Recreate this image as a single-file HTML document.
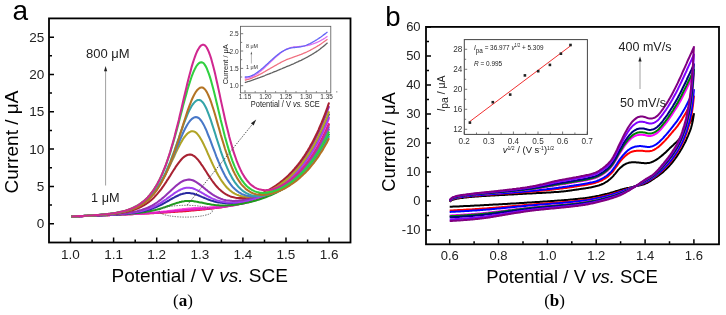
<!DOCTYPE html><html><head><meta charset="utf-8"><style>html,body{margin:0;padding:0;background:#fff;width:726px;height:315px;overflow:hidden}svg{display:block}text{font-family:"Liberation Sans",sans-serif}</style></head><body>
<svg width="726" height="315" viewBox="0 0 726 315" style="filter:blur(0.3px)">
<rect width="726" height="315" fill="#fff"/>
<defs><clipPath id="ca"><rect x="49" y="18.3" width="301.5" height="224.3"/></clipPath><clipPath id="cb"><rect x="426" y="26.8" width="293" height="217.5"/></clipPath><clipPath id="cia"><rect x="240.5" y="26.3" width="90.3" height="66.6"/></clipPath></defs>
<g clip-path="url(#ca)" fill="none" stroke-width="2.05" stroke-linejoin="round" stroke-linecap="butt">
<path d="M71.4 216.5L72.4 216.5L73.5 216.4L74.6 216.4L75.7 216.4L76.7 216.3L77.8 216.3L78.9 216.2L80 216.2L81 216.2L82.1 216.1L83.2 216.1L84.2 216L85.3 216L86.4 216L87.5 215.9L88.5 215.9L89.6 215.8L90.7 215.8L91.8 215.8L92.8 215.7L93.9 215.7L95 215.6L96.1 215.6L97.1 215.6L98.2 215.5L99.3 215.5L100.4 215.4L101.4 215.4L102.5 215.4L103.6 215.3L104.7 215.3L105.7 215.2L106.8 215.2L107.9 215.1L108.9 215.1L110 215.1L111.1 215L112.2 215L113.2 214.9L114.3 214.9L115.4 214.8L116.5 214.8L117.5 214.8L118.6 214.7L119.7 214.7L120.8 214.6L121.8 214.6L122.9 214.5L124 214.5L125.1 214.4L126.1 214.4L127.2 214.4L128.3 214.3L129.4 214.3L130.4 214.2L131.5 214.2L132.6 214.1L133.6 214.1L134.7 214L135.8 214L136.9 213.9L137.9 213.9L139 213.8L140.1 213.8L141.2 213.7L142.2 213.7L143.3 213.6L144.4 213.6L145.5 213.5L146.5 213.5L147.6 213.4L148.7 213.4L149.8 213.3L150.8 213.3L151.9 213.2L153 213.1L154.1 213.1L155.1 213L156.2 213L157.3 212.9L158.3 212.9L159.4 212.8L160.5 212.7L161.6 212.7L162.6 212.6L163.7 212.6L164.8 212.5L165.9 212.4L166.9 212.4L168 212.3L169.1 212.2L170.2 212.2L171.2 212.1L172.3 212L173.4 212L174.5 211.9L175.5 211.8L176.6 211.8L177.7 211.7L178.8 211.6L179.8 211.5L180.9 211.5L182 211.4L183 211.3L184.1 211.2L185.2 211.1L186.3 211.1L187.3 211L188.4 210.9L189.5 210.8L190.6 210.7L191.6 210.6L192.7 210.5L193.8 210.4L194.9 210.3L195.9 210.2L197 210.1L198.1 210L199.2 209.9L200.2 209.8L201.3 209.7L202.4 209.6L203.5 209.5L204.5 209.4L205.6 209.3L206.7 209.1L207.7 209L208.8 208.9L209.9 208.8L211 208.6L212 208.5L213.1 208.4L214.2 208.2L215.3 208.1L216.3 208L217.4 207.8L218.5 207.7L219.6 207.5L220.6 207.4L221.7 207.2L222.8 207L223.9 206.9L224.9 206.7L226 206.5L227.1 206.3L228.2 206.1L229.2 206L230.3 205.8L231.4 205.6L232.4 205.4L233.5 205.1L234.6 204.9L235.7 204.7L236.7 204.5L237.8 204.3L238.9 204L240 203.8L241 203.5L242.1 203.3L243.2 203L244.3 202.7L245.3 202.5L246.4 202.2L247.5 201.9L248.6 201.6L249.6 201.3L250.7 201L251.8 200.6L252.9 200.3L253.9 200L255 199.6L256.1 199.2L257.1 198.9L258.2 198.5L259.3 198.1L260.4 197.7L261.4 197.3L262.5 196.9L263.6 196.4L264.7 196L265.7 195.5L266.8 195L267.9 194.6L269 194L270 193.5L271.1 193L272.2 192.5L273.3 191.9L274.3 191.3L275.4 190.7L276.5 190.1L277.6 189.5L278.6 188.8L279.7 188.2L280.8 187.5L281.8 186.8L282.9 186.1L284 185.3L285.1 184.6L286.1 183.8L287.2 183L288.3 182.1L289.4 181.3L290.4 180.4L291.5 179.5L292.6 178.5L293.7 177.6L294.7 176.6L295.8 175.6L296.9 174.5L298 173.4L299 172.3L300.1 171.2L301.2 170L302.3 168.8L303.3 167.5L304.4 166.3L305.5 164.9L306.5 163.6L307.6 162.2L308.7 160.7L309.8 159.2L310.8 157.7L311.9 156.1L313 154.5L314.1 152.8L315.1 151.1L316.2 149.3L317.3 147.5L318.4 145.6L319.4 143.7L320.5 141.7L321.6 139.6L322.7 137.5L323.7 135.3L324.8 133.1L325.9 130.7L327 128.3L328 125.9L329.1 123.4" stroke="#e8102e"/>
<path d="M71.4 216.5L72.4 216.5L73.5 216.4L74.6 216.4L75.7 216.4L76.7 216.3L77.8 216.3L78.9 216.2L80 216.2L81 216.2L82.1 216.1L83.2 216.1L84.2 216L85.3 216L86.4 216L87.5 215.9L88.5 215.9L89.6 215.8L90.7 215.8L91.8 215.8L92.8 215.7L93.9 215.7L95 215.6L96.1 215.6L97.1 215.5L98.2 215.5L99.3 215.5L100.4 215.4L101.4 215.4L102.5 215.3L103.6 215.3L104.7 215.3L105.7 215.2L106.8 215.2L107.9 215.1L108.9 215.1L110 215L111.1 215L112.2 214.9L113.2 214.9L114.3 214.9L115.4 214.8L116.5 214.8L117.5 214.7L118.6 214.7L119.7 214.6L120.8 214.6L121.8 214.5L122.9 214.5L124 214.4L125.1 214.4L126.1 214.3L127.2 214.3L128.3 214.2L129.4 214.2L130.4 214.1L131.5 214.1L132.6 214L133.6 213.9L134.7 213.9L135.8 213.8L136.9 213.8L137.9 213.7L139 213.6L140.1 213.6L141.2 213.5L142.2 213.4L143.3 213.4L144.4 213.3L145.5 213.2L146.5 213.2L147.6 213.1L148.7 213L149.8 212.9L150.8 212.8L151.9 212.7L153 212.7L154.1 212.6L155.1 212.5L156.2 212.4L157.3 212.3L158.3 212.2L159.4 212.1L160.5 212L161.6 211.8L162.6 211.7L163.7 211.6L164.8 211.5L165.9 211.4L166.9 211.2L168 211.1L169.1 211L170.2 210.8L171.2 210.7L172.3 210.5L173.4 210.4L174.5 210.2L175.5 210.1L176.6 210L177.7 209.8L178.8 209.7L179.8 209.5L180.9 209.4L182 209.3L183 209.1L184.1 209L185.2 208.9L186.3 208.8L187.3 208.7L188.4 208.5L189.5 208.4L190.6 208.4L191.6 208.3L192.7 208.2L193.8 208.1L194.9 208.1L195.9 208L197 207.9L198.1 207.9L199.2 207.8L200.2 207.8L201.3 207.7L202.4 207.7L203.5 207.6L204.5 207.6L205.6 207.5L206.7 207.5L207.7 207.4L208.8 207.4L209.9 207.3L211 207.3L212 207.2L213.1 207.1L214.2 207L215.3 206.9L216.3 206.9L217.4 206.8L218.5 206.7L219.6 206.5L220.6 206.4L221.7 206.3L222.8 206.2L223.9 206L224.9 205.9L226 205.7L227.1 205.6L228.2 205.4L229.2 205.3L230.3 205.1L231.4 204.9L232.4 204.7L233.5 204.5L234.6 204.3L235.7 204.1L236.7 203.9L237.8 203.6L238.9 203.4L240 203.2L241 202.9L242.1 202.7L243.2 202.4L244.3 202.1L245.3 201.8L246.4 201.5L247.5 201.2L248.6 200.9L249.6 200.6L250.7 200.3L251.8 200L252.9 199.6L253.9 199.3L255 198.9L256.1 198.5L257.1 198.1L258.2 197.7L259.3 197.3L260.4 196.9L261.4 196.5L262.5 196L263.6 195.6L264.7 195.1L265.7 194.6L266.8 194.1L267.9 193.6L269 193.1L270 192.5L271.1 192L272.2 191.4L273.3 190.8L274.3 190.2L275.4 189.6L276.5 188.9L277.6 188.2L278.6 187.6L279.7 186.9L280.8 186.1L281.8 185.4L282.9 184.6L284 183.8L285.1 183L286.1 182.2L287.2 181.3L288.3 180.5L289.4 179.6L290.4 178.6L291.5 177.7L292.6 176.7L293.7 175.6L294.7 174.6L295.8 173.5L296.9 172.4L298 171.3L299 170.1L300.1 168.9L301.2 167.6L302.3 166.3L303.3 165L304.4 163.6L305.5 162.2L306.5 160.8L307.6 159.3L308.7 157.8L309.8 156.2L310.8 154.6L311.9 152.9L313 151.2L314.1 149.4L315.1 147.5L316.2 145.7L317.3 143.7L318.4 141.7L319.4 139.7L320.5 137.6L321.6 135.4L322.7 133.1L323.7 130.8L324.8 128.4L325.9 126L327 123.4L328 120.8L329.1 118.1" stroke="#ff40e0"/>
<path d="M71.4 216.5L72.4 216.5L73.5 216.4L74.6 216.4L75.7 216.4L76.7 216.3L77.8 216.3L78.9 216.2L80 216.2L81 216.2L82.1 216.1L83.2 216.1L84.2 216.1L85.3 216L86.4 216L87.5 215.9L88.5 215.9L89.6 215.9L90.7 215.8L91.8 215.8L92.8 215.7L93.9 215.7L95 215.6L96.1 215.6L97.1 215.6L98.2 215.5L99.3 215.5L100.4 215.4L101.4 215.4L102.5 215.4L103.6 215.3L104.7 215.3L105.7 215.2L106.8 215.2L107.9 215.1L108.9 215.1L110 215.1L111.1 215L112.2 215L113.2 214.9L114.3 214.9L115.4 214.8L116.5 214.8L117.5 214.8L118.6 214.7L119.7 214.7L120.8 214.6L121.8 214.6L122.9 214.5L124 214.5L125.1 214.4L126.1 214.4L127.2 214.3L128.3 214.3L129.4 214.2L130.4 214.2L131.5 214.1L132.6 214.1L133.6 214L134.7 214L135.8 213.9L136.9 213.9L137.9 213.8L139 213.8L140.1 213.7L141.2 213.7L142.2 213.6L143.3 213.5L144.4 213.5L145.5 213.4L146.5 213.4L147.6 213.3L148.7 213.2L149.8 213.2L150.8 213.1L151.9 213L153 212.9L154.1 212.9L155.1 212.8L156.2 212.7L157.3 212.6L158.3 212.6L159.4 212.5L160.5 212.4L161.6 212.3L162.6 212.2L163.7 212.1L164.8 212L165.9 211.9L166.9 211.9L168 211.8L169.1 211.7L170.2 211.6L171.2 211.5L172.3 211.4L173.4 211.2L174.5 211.1L175.5 211L176.6 210.9L177.7 210.8L178.8 210.7L179.8 210.6L180.9 210.5L182 210.4L183 210.3L184.1 210.2L185.2 210.1L186.3 210L187.3 210L188.4 209.9L189.5 209.8L190.6 209.7L191.6 209.6L192.7 209.5L193.8 209.5L194.9 209.4L195.9 209.3L197 209.2L198.1 209.2L199.2 209.1L200.2 209L201.3 209L202.4 208.9L203.5 208.8L204.5 208.8L205.6 208.7L206.7 208.6L207.7 208.5L208.8 208.4L209.9 208.4L211 208.3L212 208.2L213.1 208.1L214.2 208L215.3 207.9L216.3 207.8L217.4 207.7L218.5 207.5L219.6 207.4L220.6 207.3L221.7 207.2L222.8 207L223.9 206.9L224.9 206.7L226 206.6L227.1 206.4L228.2 206.3L229.2 206.1L230.3 205.9L231.4 205.7L232.4 205.6L233.5 205.4L234.6 205.2L235.7 205L236.7 204.8L237.8 204.6L238.9 204.3L240 204.1L241 203.9L242.1 203.7L243.2 203.4L244.3 203.2L245.3 202.9L246.4 202.6L247.5 202.4L248.6 202.1L249.6 201.8L250.7 201.5L251.8 201.2L252.9 200.9L253.9 200.6L255 200.2L256.1 199.9L257.1 199.5L258.2 199.2L259.3 198.8L260.4 198.4L261.4 198.1L262.5 197.7L263.6 197.2L264.7 196.8L265.7 196.4L266.8 195.9L267.9 195.5L269 195L270 194.5L271.1 194L272.2 193.5L273.3 193L274.3 192.4L275.4 191.9L276.5 191.3L277.6 190.7L278.6 190.1L279.7 189.5L280.8 188.8L281.8 188.2L282.9 187.5L284 186.8L285.1 186.1L286.1 185.3L287.2 184.6L288.3 183.8L289.4 183L290.4 182.2L291.5 181.3L292.6 180.4L293.7 179.5L294.7 178.6L295.8 177.6L296.9 176.6L298 175.6L299 174.6L300.1 173.5L301.2 172.4L302.3 171.3L303.3 170.1L304.4 168.9L305.5 167.6L306.5 166.3L307.6 165L308.7 163.7L309.8 162.3L310.8 160.8L311.9 159.3L313 157.8L314.1 156.2L315.1 154.6L316.2 153L317.3 151.2L318.4 149.5L319.4 147.6L320.5 145.8L321.6 143.8L322.7 141.8L323.7 139.8L324.8 137.7L325.9 135.5L327 133.3L328 131L329.1 128.6" stroke="#e020c0"/>
<path d="M71.4 216.5L72.4 216.5L73.5 216.4L74.6 216.4L75.7 216.4L76.7 216.3L77.8 216.3L78.9 216.2L80 216.2L81 216.2L82.1 216.1L83.2 216.1L84.2 216L85.3 216L86.4 216L87.5 215.9L88.5 215.9L89.6 215.8L90.7 215.8L91.8 215.8L92.8 215.7L93.9 215.7L95 215.6L96.1 215.6L97.1 215.5L98.2 215.5L99.3 215.4L100.4 215.4L101.4 215.4L102.5 215.3L103.6 215.3L104.7 215.2L105.7 215.2L106.8 215.1L107.9 215.1L108.9 215L110 215L111.1 214.9L112.2 214.9L113.2 214.8L114.3 214.8L115.4 214.7L116.5 214.6L117.5 214.6L118.6 214.5L119.7 214.5L120.8 214.4L121.8 214.3L122.9 214.3L124 214.2L125.1 214.1L126.1 214.1L127.2 214L128.3 213.9L129.4 213.8L130.4 213.7L131.5 213.6L132.6 213.5L133.6 213.4L134.7 213.3L135.8 213.2L136.9 213.1L137.9 213L139 212.9L140.1 212.8L141.2 212.6L142.2 212.5L143.3 212.3L144.4 212.2L145.5 212L146.5 211.8L147.6 211.6L148.7 211.4L149.8 211.2L150.8 211L151.9 210.8L153 210.6L154.1 210.3L155.1 210.1L156.2 209.8L157.3 209.5L158.3 209.2L159.4 208.9L160.5 208.6L161.6 208.2L162.6 207.9L163.7 207.5L164.8 207.2L165.9 206.8L166.9 206.4L168 206L169.1 205.7L170.2 205.3L171.2 204.9L172.3 204.5L173.4 204.1L174.5 203.7L175.5 203.4L176.6 203L177.7 202.7L178.8 202.4L179.8 202.1L180.9 201.9L182 201.6L183 201.4L184.1 201.3L185.2 201.1L186.3 201L187.3 201L188.4 200.9L189.5 200.9L190.6 201L191.6 201L192.7 201.1L193.8 201.2L194.9 201.4L195.9 201.6L197 201.7L198.1 201.9L199.2 202.2L200.2 202.4L201.3 202.6L202.4 202.8L203.5 203.1L204.5 203.3L205.6 203.5L206.7 203.7L207.7 204L208.8 204.1L209.9 204.3L211 204.5L212 204.7L213.1 204.8L214.2 204.9L215.3 205.1L216.3 205.2L217.4 205.3L218.5 205.3L219.6 205.4L220.6 205.4L221.7 205.5L222.8 205.5L223.9 205.5L224.9 205.5L226 205.4L227.1 205.4L228.2 205.3L229.2 205.3L230.3 205.2L231.4 205.1L232.4 205L233.5 204.9L234.6 204.8L235.7 204.7L236.7 204.5L237.8 204.4L238.9 204.2L240 204.1L241 203.9L242.1 203.7L243.2 203.5L244.3 203.3L245.3 203.1L246.4 202.8L247.5 202.6L248.6 202.4L249.6 202.1L250.7 201.9L251.8 201.6L252.9 201.3L253.9 201L255 200.7L256.1 200.4L257.1 200.1L258.2 199.8L259.3 199.5L260.4 199.1L261.4 198.8L262.5 198.4L263.6 198L264.7 197.6L265.7 197.2L266.8 196.8L267.9 196.4L269 195.9L270 195.5L271.1 195L272.2 194.5L273.3 194L274.3 193.5L275.4 193L276.5 192.5L277.6 191.9L278.6 191.4L279.7 190.8L280.8 190.2L281.8 189.6L282.9 188.9L284 188.3L285.1 187.6L286.1 186.9L287.2 186.2L288.3 185.5L289.4 184.7L290.4 183.9L291.5 183.1L292.6 182.3L293.7 181.5L294.7 180.6L295.8 179.7L296.9 178.8L298 177.8L299 176.8L300.1 175.8L301.2 174.8L302.3 173.7L303.3 172.6L304.4 171.5L305.5 170.3L306.5 169.1L307.6 167.9L308.7 166.6L309.8 165.3L310.8 164L311.9 162.6L313 161.1L314.1 159.7L315.1 158.2L316.2 156.6L317.3 155L318.4 153.3L319.4 151.6L320.5 149.9L321.6 148.1L322.7 146.2L323.7 144.3L324.8 142.3L325.9 140.3L327 138.2L328 136L329.1 133.8" stroke="#1f9a1f"/>
<path d="M71.4 216.5L72.4 216.5L73.5 216.4L74.6 216.4L75.7 216.3L76.7 216.3L77.8 216.3L78.9 216.2L80 216.2L81 216.1L82.1 216.1L83.2 216L84.2 216L85.3 216L86.4 215.9L87.5 215.9L88.5 215.8L89.6 215.8L90.7 215.7L91.8 215.7L92.8 215.7L93.9 215.6L95 215.6L96.1 215.5L97.1 215.5L98.2 215.4L99.3 215.4L100.4 215.3L101.4 215.3L102.5 215.2L103.6 215.2L104.7 215.1L105.7 215.1L106.8 215L107.9 214.9L108.9 214.9L110 214.8L111.1 214.8L112.2 214.7L113.2 214.6L114.3 214.6L115.4 214.5L116.5 214.4L117.5 214.4L118.6 214.3L119.7 214.2L120.8 214.1L121.8 214L122.9 214L124 213.9L125.1 213.8L126.1 213.7L127.2 213.6L128.3 213.4L129.4 213.3L130.4 213.2L131.5 213.1L132.6 212.9L133.6 212.8L134.7 212.7L135.8 212.5L136.9 212.3L137.9 212.2L139 212L140.1 211.8L141.2 211.6L142.2 211.3L143.3 211.1L144.4 210.9L145.5 210.6L146.5 210.3L147.6 210L148.7 209.7L149.8 209.4L150.8 209.1L151.9 208.7L153 208.3L154.1 207.9L155.1 207.5L156.2 207.1L157.3 206.6L158.3 206.1L159.4 205.6L160.5 205.1L161.6 204.5L162.6 204L163.7 203.4L164.8 202.8L165.9 202.2L166.9 201.6L168 201L169.1 200.4L170.2 199.7L171.2 199.1L172.3 198.5L173.4 197.9L174.5 197.3L175.5 196.7L176.6 196.2L177.7 195.7L178.8 195.2L179.8 194.7L180.9 194.3L182 194L183 193.7L184.1 193.4L185.2 193.3L186.3 193.1L187.3 193L188.4 193L189.5 193.1L190.6 193.2L191.6 193.4L192.7 193.6L193.8 193.8L194.9 194.2L195.9 194.5L197 194.9L198.1 195.3L199.2 195.7L200.2 196.2L201.3 196.6L202.4 197.1L203.5 197.5L204.5 198L205.6 198.4L206.7 198.9L207.7 199.3L208.8 199.7L209.9 200.1L211 200.5L212 200.8L213.1 201.1L214.2 201.4L215.3 201.7L216.3 202L217.4 202.2L218.5 202.4L219.6 202.6L220.6 202.7L221.7 202.8L222.8 202.9L223.9 203L224.9 203.1L226 203.1L227.1 203.1L228.2 203.1L229.2 203.1L230.3 203.1L231.4 203L232.4 202.9L233.5 202.8L234.6 202.7L235.7 202.6L236.7 202.5L237.8 202.3L238.9 202.1L240 202L241 201.8L242.1 201.6L243.2 201.3L244.3 201.1L245.3 200.9L246.4 200.6L247.5 200.3L248.6 200L249.6 199.7L250.7 199.4L251.8 199.1L252.9 198.8L253.9 198.4L255 198.1L256.1 197.7L257.1 197.3L258.2 196.9L259.3 196.5L260.4 196.1L261.4 195.6L262.5 195.2L263.6 194.7L264.7 194.2L265.7 193.7L266.8 193.2L267.9 192.7L269 192.1L270 191.6L271.1 191L272.2 190.4L273.3 189.8L274.3 189.2L275.4 188.5L276.5 187.8L277.6 187.1L278.6 186.4L279.7 185.7L280.8 184.9L281.8 184.2L282.9 183.4L284 182.6L285.1 181.7L286.1 180.8L287.2 179.9L288.3 179L289.4 178.1L290.4 177.1L291.5 176.1L292.6 175L293.7 174L294.7 172.9L295.8 171.7L296.9 170.6L298 169.4L299 168.1L300.1 166.9L301.2 165.6L302.3 164.2L303.3 162.8L304.4 161.4L305.5 159.9L306.5 158.4L307.6 156.8L308.7 155.2L309.8 153.6L310.8 151.9L311.9 150.1L313 148.3L314.1 146.4L315.1 144.5L316.2 142.5L317.3 140.5L318.4 138.4L319.4 136.3L320.5 134L321.6 131.7L322.7 129.4L323.7 127L324.8 124.4L325.9 121.9L327 119.2L328 116.5L329.1 113.7" stroke="#2a2aa0"/>
<path d="M71.4 216.5L72.4 216.5L73.5 216.4L74.6 216.4L75.7 216.3L76.7 216.3L77.8 216.3L78.9 216.2L80 216.2L81 216.1L82.1 216.1L83.2 216L84.2 216L85.3 216L86.4 215.9L87.5 215.9L88.5 215.8L89.6 215.8L90.7 215.7L91.8 215.7L92.8 215.6L93.9 215.6L95 215.5L96.1 215.5L97.1 215.4L98.2 215.4L99.3 215.3L100.4 215.3L101.4 215.2L102.5 215.2L103.6 215.1L104.7 215.1L105.7 215L106.8 215L107.9 214.9L108.9 214.8L110 214.8L111.1 214.7L112.2 214.6L113.2 214.6L114.3 214.5L115.4 214.4L116.5 214.3L117.5 214.3L118.6 214.2L119.7 214.1L120.8 214L121.8 213.9L122.9 213.8L124 213.7L125.1 213.6L126.1 213.5L127.2 213.3L128.3 213.2L129.4 213.1L130.4 212.9L131.5 212.8L132.6 212.6L133.6 212.5L134.7 212.3L135.8 212.1L136.9 211.9L137.9 211.7L139 211.5L140.1 211.2L141.2 211L142.2 210.7L143.3 210.4L144.4 210.1L145.5 209.8L146.5 209.5L147.6 209.1L148.7 208.7L149.8 208.3L150.8 207.9L151.9 207.5L153 207L154.1 206.5L155.1 206L156.2 205.5L157.3 204.9L158.3 204.3L159.4 203.7L160.5 203L161.6 202.4L162.6 201.7L163.7 200.9L164.8 200.2L165.9 199.5L166.9 198.7L168 197.9L169.1 197.1L170.2 196.3L171.2 195.5L172.3 194.8L173.4 194L174.5 193.2L175.5 192.5L176.6 191.8L177.7 191.2L178.8 190.5L179.8 190L180.9 189.4L182 189L183 188.6L184.1 188.3L185.2 188L186.3 187.8L187.3 187.7L188.4 187.7L189.5 187.7L190.6 187.9L191.6 188.1L192.7 188.3L193.8 188.7L194.9 189.1L195.9 189.6L197 190.1L198.1 190.6L199.2 191.2L200.2 191.8L201.3 192.4L202.4 193.1L203.5 193.7L204.5 194.3L205.6 195L206.7 195.6L207.7 196.2L208.8 196.8L209.9 197.3L211 197.9L212 198.4L213.1 198.9L214.2 199.3L215.3 199.7L216.3 200.1L217.4 200.5L218.5 200.8L219.6 201.1L220.6 201.4L221.7 201.6L222.8 201.8L223.9 202L224.9 202.1L226 202.3L227.1 202.4L228.2 202.4L229.2 202.5L230.3 202.5L231.4 202.5L232.4 202.5L233.5 202.5L234.6 202.4L235.7 202.3L236.7 202.2L237.8 202.1L238.9 202L240 201.9L241 201.7L242.1 201.5L243.2 201.3L244.3 201.1L245.3 200.9L246.4 200.7L247.5 200.4L248.6 200.2L249.6 199.9L250.7 199.6L251.8 199.3L252.9 199L253.9 198.7L255 198.3L256.1 198L257.1 197.6L258.2 197.2L259.3 196.8L260.4 196.4L261.4 196L262.5 195.6L263.6 195.1L264.7 194.7L265.7 194.2L266.8 193.7L267.9 193.2L269 192.7L270 192.1L271.1 191.6L272.2 191L273.3 190.4L274.3 189.8L275.4 189.1L276.5 188.5L277.6 187.8L278.6 187.1L279.7 186.4L280.8 185.7L281.8 185L282.9 184.2L284 183.4L285.1 182.6L286.1 181.7L287.2 180.9L288.3 180L289.4 179L290.4 178.1L291.5 177.1L292.6 176.1L293.7 175.1L294.7 174L295.8 172.9L296.9 171.8L298 170.6L299 169.4L300.1 168.2L301.2 166.9L302.3 165.6L303.3 164.3L304.4 162.9L305.5 161.5L306.5 160L307.6 158.5L308.7 156.9L309.8 155.3L310.8 153.7L311.9 152L313 150.2L314.1 148.4L315.1 146.5L316.2 144.6L317.3 142.7L318.4 140.6L319.4 138.5L320.5 136.4L321.6 134.2L322.7 131.9L323.7 129.5L324.8 127.1L325.9 124.6L327 122L328 119.4L329.1 116.6" stroke="#a040f0"/>
<path d="M71.4 216.5L72.4 216.4L73.5 216.4L74.6 216.4L75.7 216.3L76.7 216.3L77.8 216.2L78.9 216.2L80 216.1L81 216.1L82.1 216.1L83.2 216L84.2 216L85.3 215.9L86.4 215.9L87.5 215.8L88.5 215.8L89.6 215.7L90.7 215.7L91.8 215.6L92.8 215.6L93.9 215.5L95 215.5L96.1 215.4L97.1 215.4L98.2 215.3L99.3 215.3L100.4 215.2L101.4 215.2L102.5 215.1L103.6 215L104.7 215L105.7 214.9L106.8 214.9L107.9 214.8L108.9 214.7L110 214.6L111.1 214.6L112.2 214.5L113.2 214.4L114.3 214.3L115.4 214.2L116.5 214.1L117.5 214L118.6 214L119.7 213.8L120.8 213.7L121.8 213.6L122.9 213.5L124 213.4L125.1 213.2L126.1 213.1L127.2 213L128.3 212.8L129.4 212.6L130.4 212.5L131.5 212.3L132.6 212.1L133.6 211.9L134.7 211.6L135.8 211.4L136.9 211.2L137.9 210.9L139 210.6L140.1 210.3L141.2 210L142.2 209.7L143.3 209.3L144.4 208.9L145.5 208.5L146.5 208.1L147.6 207.7L148.7 207.2L149.8 206.7L150.8 206.1L151.9 205.6L153 205L154.1 204.3L155.1 203.7L156.2 203L157.3 202.3L158.3 201.5L159.4 200.7L160.5 199.9L161.6 199L162.6 198.1L163.7 197.2L164.8 196.3L165.9 195.3L166.9 194.3L168 193.3L169.1 192.3L170.2 191.3L171.2 190.2L172.3 189.2L173.4 188.2L174.5 187.2L175.5 186.3L176.6 185.4L177.7 184.5L178.8 183.7L179.8 182.9L180.9 182.2L182 181.5L183 181L184.1 180.5L185.2 180.2L186.3 179.9L187.3 179.7L188.4 179.6L189.5 179.6L190.6 179.8L191.6 180L192.7 180.3L193.8 180.8L194.9 181.3L195.9 181.9L197 182.6L198.1 183.3L199.2 184.1L200.2 184.9L201.3 185.7L202.4 186.6L203.5 187.5L204.5 188.4L205.6 189.3L206.7 190.1L207.7 191L208.8 191.8L209.9 192.6L211 193.4L212 194.2L213.1 194.9L214.2 195.5L215.3 196.2L216.3 196.7L217.4 197.3L218.5 197.8L219.6 198.2L220.6 198.7L221.7 199L222.8 199.4L223.9 199.7L224.9 199.9L226 200.2L227.1 200.4L228.2 200.5L229.2 200.6L230.3 200.7L231.4 200.8L232.4 200.9L233.5 200.9L234.6 200.9L235.7 200.8L236.7 200.8L237.8 200.7L238.9 200.6L240 200.5L241 200.3L242.1 200.2L243.2 200L244.3 199.8L245.3 199.6L246.4 199.3L247.5 199.1L248.6 198.8L249.6 198.5L250.7 198.2L251.8 197.9L252.9 197.6L253.9 197.2L255 196.9L256.1 196.5L257.1 196.1L258.2 195.7L259.3 195.2L260.4 194.8L261.4 194.3L262.5 193.9L263.6 193.4L264.7 192.9L265.7 192.3L266.8 191.8L267.9 191.2L269 190.7L270 190.1L271.1 189.5L272.2 188.8L273.3 188.2L274.3 187.5L275.4 186.8L276.5 186.1L277.6 185.3L278.6 184.6L279.7 183.8L280.8 183L281.8 182.1L282.9 181.3L284 180.4L285.1 179.5L286.1 178.6L287.2 177.6L288.3 176.6L289.4 175.6L290.4 174.5L291.5 173.5L292.6 172.3L293.7 171.2L294.7 170L295.8 168.8L296.9 167.5L298 166.2L299 164.9L300.1 163.5L301.2 162.1L302.3 160.7L303.3 159.2L304.4 157.6L305.5 156.1L306.5 154.4L307.6 152.7L308.7 151L309.8 149.2L310.8 147.4L311.9 145.5L313 143.5L314.1 141.5L315.1 139.5L316.2 137.3L317.3 135.1L318.4 132.9L319.4 130.6L320.5 128.2L321.6 125.7L322.7 123.1L323.7 120.5L324.8 117.8L325.9 115.1L327 112.2L328 109.2L329.1 106.2" stroke="#9432b4"/>
<path d="M71.4 216.5L72.4 216.4L73.5 216.4L74.6 216.3L75.7 216.3L76.7 216.2L77.8 216.2L78.9 216.1L80 216.1L81 216L82.1 216L83.2 215.9L84.2 215.9L85.3 215.8L86.4 215.8L87.5 215.7L88.5 215.7L89.6 215.6L90.7 215.6L91.8 215.5L92.8 215.5L93.9 215.4L95 215.3L96.1 215.3L97.1 215.2L98.2 215.1L99.3 215.1L100.4 215L101.4 214.9L102.5 214.9L103.6 214.8L104.7 214.7L105.7 214.6L106.8 214.5L107.9 214.4L108.9 214.3L110 214.2L111.1 214.1L112.2 214L113.2 213.9L114.3 213.8L115.4 213.6L116.5 213.5L117.5 213.4L118.6 213.2L119.7 213.1L120.8 212.9L121.8 212.7L122.9 212.5L124 212.3L125.1 212.1L126.1 211.9L127.2 211.6L128.3 211.4L129.4 211.1L130.4 210.8L131.5 210.5L132.6 210.2L133.6 209.9L134.7 209.5L135.8 209.1L136.9 208.7L137.9 208.3L139 207.8L140.1 207.3L141.2 206.8L142.2 206.2L143.3 205.6L144.4 205L145.5 204.3L146.5 203.6L147.6 202.9L148.7 202.1L149.8 201.2L150.8 200.4L151.9 199.4L153 198.4L154.1 197.4L155.1 196.3L156.2 195.1L157.3 193.9L158.3 192.7L159.4 191.3L160.5 190L161.6 188.6L162.6 187.1L163.7 185.6L164.8 184L165.9 182.4L166.9 180.7L168 179.1L169.1 177.4L170.2 175.7L171.2 174L172.3 172.2L173.4 170.5L174.5 168.9L175.5 167.2L176.6 165.6L177.7 164.1L178.8 162.6L179.8 161.3L180.9 160L182 158.8L183 157.8L184.1 156.9L185.2 156.1L186.3 155.5L187.3 155L188.4 154.7L189.5 154.6L190.6 154.6L191.6 154.8L192.7 155.3L193.8 155.9L194.9 156.7L195.9 157.6L197 158.7L198.1 159.9L199.2 161.3L200.2 162.7L201.3 164.3L202.4 165.8L203.5 167.5L204.5 169.1L205.6 170.8L206.7 172.5L207.7 174.2L208.8 175.8L209.9 177.5L211 179L212 180.5L213.1 182L214.2 183.4L215.3 184.8L216.3 186L217.4 187.2L218.5 188.4L219.6 189.4L220.6 190.4L221.7 191.3L222.8 192.2L223.9 193L224.9 193.7L226 194.3L227.1 194.9L228.2 195.5L229.2 195.9L230.3 196.4L231.4 196.7L232.4 197.1L233.5 197.3L234.6 197.6L235.7 197.8L236.7 197.9L237.8 198L238.9 198.1L240 198.1L241 198.1L242.1 198.1L243.2 198.1L244.3 198L245.3 197.9L246.4 197.7L247.5 197.5L248.6 197.4L249.6 197.1L250.7 196.9L251.8 196.7L252.9 196.4L253.9 196.1L255 195.7L256.1 195.4L257.1 195L258.2 194.7L259.3 194.3L260.4 193.8L261.4 193.4L262.5 192.9L263.6 192.5L264.7 192L265.7 191.4L266.8 190.9L267.9 190.3L269 189.8L270 189.2L271.1 188.5L272.2 187.9L273.3 187.2L274.3 186.5L275.4 185.8L276.5 185.1L277.6 184.3L278.6 183.6L279.7 182.8L280.8 181.9L281.8 181.1L282.9 180.2L284 179.3L285.1 178.4L286.1 177.4L287.2 176.4L288.3 175.4L289.4 174.3L290.4 173.2L291.5 172.1L292.6 171L293.7 169.8L294.7 168.5L295.8 167.3L296.9 166L298 164.7L299 163.3L300.1 161.9L301.2 160.4L302.3 158.9L303.3 157.4L304.4 155.8L305.5 154.1L306.5 152.4L307.6 150.7L308.7 148.9L309.8 147L310.8 145.1L311.9 143.2L313 141.2L314.1 139.1L315.1 136.9L316.2 134.7L317.3 132.5L318.4 130.1L319.4 127.7L320.5 125.2L321.6 122.7L322.7 120L323.7 117.3L324.8 114.5L325.9 111.6L327 108.7L328 105.6L329.1 102.5" stroke="#a82232"/>
<path d="M71.4 216.4L72.4 216.4L73.5 216.3L74.6 216.3L75.7 216.2L76.7 216.2L77.8 216.1L78.9 216.1L80 216L81 216L82.1 215.9L83.2 215.9L84.2 215.8L85.3 215.8L86.4 215.7L87.5 215.7L88.5 215.6L89.6 215.5L90.7 215.5L91.8 215.4L92.8 215.4L93.9 215.3L95 215.2L96.1 215.1L97.1 215.1L98.2 215L99.3 214.9L100.4 214.8L101.4 214.7L102.5 214.6L103.6 214.6L104.7 214.5L105.7 214.4L106.8 214.2L107.9 214.1L108.9 214L110 213.9L111.1 213.8L112.2 213.6L113.2 213.5L114.3 213.3L115.4 213.2L116.5 213L117.5 212.8L118.6 212.6L119.7 212.4L120.8 212.2L121.8 212L122.9 211.8L124 211.5L125.1 211.3L126.1 211L127.2 210.7L128.3 210.3L129.4 210L130.4 209.7L131.5 209.3L132.6 208.9L133.6 208.4L134.7 208L135.8 207.5L136.9 207L137.9 206.4L139 205.8L140.1 205.2L141.2 204.5L142.2 203.8L143.3 203.1L144.4 202.3L145.5 201.5L146.5 200.6L147.6 199.6L148.7 198.6L149.8 197.6L150.8 196.4L151.9 195.3L153 194L154.1 192.7L155.1 191.3L156.2 189.9L157.3 188.4L158.3 186.8L159.4 185.1L160.5 183.4L161.6 181.6L162.6 179.7L163.7 177.7L164.8 175.7L165.9 173.7L166.9 171.5L168 169.4L169.1 167.1L170.2 164.9L171.2 162.6L172.3 160.3L173.4 158L174.5 155.7L175.5 153.4L176.6 151.1L177.7 148.9L178.8 146.8L179.8 144.7L180.9 142.7L182 140.9L183 139.1L184.1 137.5L185.2 136.1L186.3 134.8L187.3 133.7L188.4 132.8L189.5 132.1L190.6 131.6L191.6 131.3L192.7 131.2L193.8 131.4L194.9 131.9L195.9 132.6L197 133.6L198.1 134.9L199.2 136.3L200.2 138L201.3 139.8L202.4 141.8L203.5 143.9L204.5 146.1L205.6 148.4L206.7 150.8L207.7 153.2L208.8 155.6L209.9 158.1L211 160.5L212 162.8L213.1 165.1L214.2 167.4L215.3 169.6L216.3 171.7L217.4 173.7L218.5 175.7L219.6 177.5L220.6 179.2L221.7 180.9L222.8 182.4L223.9 183.9L224.9 185.2L226 186.5L227.1 187.7L228.2 188.8L229.2 189.8L230.3 190.7L231.4 191.5L232.4 192.3L233.5 192.9L234.6 193.6L235.7 194.1L236.7 194.6L237.8 195L238.9 195.4L240 195.7L241 196L242.1 196.2L243.2 196.4L244.3 196.5L245.3 196.6L246.4 196.6L247.5 196.7L248.6 196.6L249.6 196.6L250.7 196.5L251.8 196.4L252.9 196.2L253.9 196.1L255 195.9L256.1 195.6L257.1 195.4L258.2 195.1L259.3 194.8L260.4 194.5L261.4 194.1L262.5 193.8L263.6 193.4L264.7 192.9L265.7 192.5L266.8 192L267.9 191.6L269 191.1L270 190.5L271.1 190L272.2 189.4L273.3 188.9L274.3 188.2L275.4 187.6L276.5 187L277.6 186.3L278.6 185.6L279.7 184.9L280.8 184.1L281.8 183.3L282.9 182.5L284 181.7L285.1 180.9L286.1 180L287.2 179.1L288.3 178.2L289.4 177.2L290.4 176.2L291.5 175.2L292.6 174.1L293.7 173L294.7 171.9L295.8 170.8L296.9 169.6L298 168.4L299 167.1L300.1 165.8L301.2 164.5L302.3 163.1L303.3 161.7L304.4 160.2L305.5 158.7L306.5 157.2L307.6 155.6L308.7 153.9L309.8 152.2L310.8 150.5L311.9 148.7L313 146.9L314.1 144.9L315.1 143L316.2 141L317.3 138.9L318.4 136.7L319.4 134.5L320.5 132.3L321.6 129.9L322.7 127.5L323.7 125L324.8 122.5L325.9 119.8L327 117.1L328 114.3L329.1 111.4" stroke="#b0a426"/>
<path d="M71.4 216.4L72.4 216.4L73.5 216.3L74.6 216.3L75.7 216.2L76.7 216.2L77.8 216.1L78.9 216.1L80 216L81 216L82.1 215.9L83.2 215.9L84.2 215.8L85.3 215.8L86.4 215.7L87.5 215.7L88.5 215.6L89.6 215.5L90.7 215.5L91.8 215.4L92.8 215.3L93.9 215.3L95 215.2L96.1 215.1L97.1 215.1L98.2 215L99.3 214.9L100.4 214.8L101.4 214.7L102.5 214.6L103.6 214.5L104.7 214.4L105.7 214.3L106.8 214.2L107.9 214.1L108.9 214L110 213.9L111.1 213.7L112.2 213.6L113.2 213.5L114.3 213.3L115.4 213.1L116.5 213L117.5 212.8L118.6 212.6L119.7 212.4L120.8 212.2L121.8 212L122.9 211.7L124 211.5L125.1 211.2L126.1 210.9L127.2 210.6L128.3 210.3L129.4 210L130.4 209.6L131.5 209.2L132.6 208.8L133.6 208.4L134.7 207.9L135.8 207.4L136.9 206.9L137.9 206.4L139 205.8L140.1 205.2L141.2 204.5L142.2 203.8L143.3 203.1L144.4 202.3L145.5 201.4L146.5 200.6L147.6 199.6L148.7 198.6L149.8 197.6L150.8 196.5L151.9 195.3L153 194L154.1 192.7L155.1 191.3L156.2 189.9L157.3 188.3L158.3 186.7L159.4 185L160.5 183.2L161.6 181.4L162.6 179.5L163.7 177.4L164.8 175.4L165.9 173.2L166.9 170.9L168 168.6L169.1 166.2L170.2 163.8L171.2 161.3L172.3 158.7L173.4 156.1L174.5 153.5L175.5 150.9L176.6 148.2L177.7 145.6L178.8 143L179.8 140.4L180.9 137.8L182 135.4L183 133L184.1 130.7L185.2 128.6L186.3 126.6L187.3 124.7L188.4 123L189.5 121.5L190.6 120.2L191.6 119.1L192.7 118.3L193.8 117.6L194.9 117.2L195.9 117.1L197 117.2L198.1 117.7L199.2 118.4L200.2 119.5L201.3 120.9L202.4 122.5L203.5 124.4L204.5 126.4L205.6 128.7L206.7 131.2L207.7 133.8L208.8 136.5L209.9 139.2L211 142.1L212 144.9L213.1 147.8L214.2 150.7L215.3 153.5L216.3 156.3L217.4 159L218.5 161.7L219.6 164.2L220.6 166.7L221.7 169L222.8 171.3L223.9 173.4L224.9 175.4L226 177.4L227.1 179.2L228.2 180.9L229.2 182.4L230.3 183.9L231.4 185.3L232.4 186.6L233.5 187.7L234.6 188.8L235.7 189.8L236.7 190.7L237.8 191.5L238.9 192.3L240 192.9L241 193.5L242.1 194.1L243.2 194.5L244.3 194.9L245.3 195.3L246.4 195.6L247.5 195.8L248.6 196L249.6 196.2L250.7 196.3L251.8 196.4L252.9 196.4L253.9 196.4L255 196.4L256.1 196.3L257.1 196.2L258.2 196.1L259.3 195.9L260.4 195.8L261.4 195.6L262.5 195.3L263.6 195.1L264.7 194.8L265.7 194.5L266.8 194.1L267.9 193.8L269 193.4L270 193L271.1 192.6L272.2 192.1L273.3 191.6L274.3 191.2L275.4 190.7L276.5 190.1L277.6 189.6L278.6 189L279.7 188.4L280.8 187.8L281.8 187.1L282.9 186.5L284 185.8L285.1 185.1L286.1 184.4L287.2 183.6L288.3 182.8L289.4 182L290.4 181.2L291.5 180.3L292.6 179.4L293.7 178.5L294.7 177.6L295.8 176.6L296.9 175.6L298 174.6L299 173.5L300.1 172.4L301.2 171.3L302.3 170.1L303.3 168.9L304.4 167.7L305.5 166.4L306.5 165.1L307.6 163.7L308.7 162.3L309.8 160.9L310.8 159.4L311.9 157.9L313 156.3L314.1 154.7L315.1 153.1L316.2 151.4L317.3 149.6L318.4 147.8L319.4 145.9L320.5 144L321.6 142L322.7 140L323.7 137.8L324.8 135.7L325.9 133.4L327 131.1L328 128.8L329.1 126.3" stroke="#4878c8"/>
<path d="M71.4 216.4L72.4 216.4L73.5 216.3L74.6 216.3L75.7 216.2L76.7 216.2L77.8 216.1L78.9 216.1L80 216L81 216L82.1 215.9L83.2 215.9L84.2 215.8L85.3 215.8L86.4 215.7L87.5 215.7L88.5 215.6L89.6 215.5L90.7 215.5L91.8 215.4L92.8 215.3L93.9 215.3L95 215.2L96.1 215.1L97.1 215.1L98.2 215L99.3 214.9L100.4 214.8L101.4 214.7L102.5 214.6L103.6 214.5L104.7 214.4L105.7 214.3L106.8 214.2L107.9 214.1L108.9 214L110 213.9L111.1 213.7L112.2 213.6L113.2 213.4L114.3 213.3L115.4 213.1L116.5 212.9L117.5 212.8L118.6 212.6L119.7 212.4L120.8 212.2L121.8 211.9L122.9 211.7L124 211.4L125.1 211.2L126.1 210.9L127.2 210.6L128.3 210.3L129.4 209.9L130.4 209.5L131.5 209.2L132.6 208.8L133.6 208.3L134.7 207.9L135.8 207.4L136.9 206.8L137.9 206.3L139 205.7L140.1 205.1L141.2 204.4L142.2 203.7L143.3 202.9L144.4 202.1L145.5 201.3L146.5 200.4L147.6 199.4L148.7 198.4L149.8 197.3L150.8 196.2L151.9 195L153 193.7L154.1 192.4L155.1 190.9L156.2 189.4L157.3 187.8L158.3 186.2L159.4 184.4L160.5 182.6L161.6 180.6L162.6 178.6L163.7 176.5L164.8 174.2L165.9 171.9L166.9 169.5L168 167L169.1 164.4L170.2 161.8L171.2 159L172.3 156.2L173.4 153.3L174.5 150.3L175.5 147.3L176.6 144.3L177.7 141.2L178.8 138.1L179.8 135L180.9 131.9L182 128.9L183 125.9L184.1 123L185.2 120.2L186.3 117.4L187.3 114.8L188.4 112.4L189.5 110.1L190.6 108L191.6 106.1L192.7 104.5L193.8 103.1L194.9 101.9L195.9 101L197 100.3L198.1 100L199.2 99.9L200.2 100.2L201.3 100.9L202.4 101.9L203.5 103.3L204.5 105L205.6 107L206.7 109.3L207.7 111.9L208.8 114.6L209.9 117.6L211 120.7L212 123.9L213.1 127.2L214.2 130.6L215.3 134L216.3 137.4L217.4 140.8L218.5 144.1L219.6 147.4L220.6 150.6L221.7 153.8L222.8 156.8L223.9 159.7L224.9 162.5L226 165.1L227.1 167.7L228.2 170.1L229.2 172.4L230.3 174.5L231.4 176.5L232.4 178.4L233.5 180.2L234.6 181.8L235.7 183.3L236.7 184.7L237.8 186L238.9 187.2L240 188.3L241 189.3L242.1 190.2L243.2 191.1L244.3 191.8L245.3 192.5L246.4 193.1L247.5 193.6L248.6 194.1L249.6 194.5L250.7 194.9L251.8 195.2L252.9 195.4L253.9 195.6L255 195.8L256.1 195.9L257.1 196L258.2 196L259.3 196L260.4 195.9L261.4 195.9L262.5 195.8L263.6 195.6L264.7 195.5L265.7 195.3L266.8 195.1L267.9 194.8L269 194.5L270 194.2L271.1 193.9L272.2 193.6L273.3 193.2L274.3 192.8L275.4 192.4L276.5 192L277.6 191.5L278.6 191.1L279.7 190.6L280.8 190L281.8 189.5L282.9 188.9L284 188.3L285.1 187.7L286.1 187.1L287.2 186.4L288.3 185.8L289.4 185.1L290.4 184.3L291.5 183.6L292.6 182.8L293.7 182L294.7 181.2L295.8 180.3L296.9 179.5L298 178.6L299 177.6L300.1 176.7L301.2 175.7L302.3 174.6L303.3 173.6L304.4 172.5L305.5 171.4L306.5 170.2L307.6 169L308.7 167.8L309.8 166.5L310.8 165.2L311.9 163.9L313 162.5L314.1 161.1L315.1 159.6L316.2 158.1L317.3 156.6L318.4 154.9L319.4 153.3L320.5 151.6L321.6 149.8L322.7 148L323.7 146.2L324.8 144.3L325.9 142.3L327 140.3L328 138.2L329.1 136" stroke="#34a4a8"/>
<path d="M71.4 216.4L72.4 216.4L73.5 216.4L74.6 216.3L75.7 216.3L76.7 216.2L77.8 216.2L78.9 216.1L80 216.1L81 216L82.1 216L83.2 215.9L84.2 215.9L85.3 215.8L86.4 215.7L87.5 215.7L88.5 215.6L89.6 215.6L90.7 215.5L91.8 215.4L92.8 215.4L93.9 215.3L95 215.2L96.1 215.2L97.1 215.1L98.2 215L99.3 214.9L100.4 214.9L101.4 214.8L102.5 214.7L103.6 214.6L104.7 214.5L105.7 214.4L106.8 214.3L107.9 214.2L108.9 214.1L110 213.9L111.1 213.8L112.2 213.7L113.2 213.6L114.3 213.4L115.4 213.3L116.5 213.1L117.5 212.9L118.6 212.7L119.7 212.5L120.8 212.3L121.8 212.1L122.9 211.9L124 211.7L125.1 211.4L126.1 211.2L127.2 210.9L128.3 210.6L129.4 210.2L130.4 209.9L131.5 209.5L132.6 209.2L133.6 208.8L134.7 208.3L135.8 207.9L136.9 207.4L137.9 206.8L139 206.3L140.1 205.7L141.2 205.1L142.2 204.4L143.3 203.7L144.4 202.9L145.5 202.1L146.5 201.3L147.6 200.4L148.7 199.4L149.8 198.4L150.8 197.3L151.9 196.2L153 194.9L154.1 193.7L155.1 192.3L156.2 190.8L157.3 189.3L158.3 187.7L159.4 186L160.5 184.2L161.6 182.3L162.6 180.3L163.7 178.2L164.8 176L165.9 173.7L166.9 171.3L168 168.8L169.1 166.2L170.2 163.5L171.2 160.7L172.3 157.8L173.4 154.8L174.5 151.7L175.5 148.6L176.6 145.3L177.7 142L178.8 138.7L179.8 135.3L180.9 131.8L182 128.4L183 125L184.1 121.6L185.2 118.2L186.3 114.9L187.3 111.7L188.4 108.6L189.5 105.7L190.6 102.8L191.6 100.2L192.7 97.8L193.8 95.5L194.9 93.5L195.9 91.8L197 90.3L198.1 89.2L199.2 88.3L200.2 87.7L201.3 87.4L202.4 87.5L203.5 88L204.5 88.9L205.6 90.2L206.7 91.9L207.7 93.9L208.8 96.3L209.9 98.9L211 101.8L212 105L213.1 108.3L214.2 111.8L215.3 115.4L216.3 119.1L217.4 122.9L218.5 126.7L219.6 130.4L220.6 134.2L221.7 137.9L222.8 141.5L223.9 145L224.9 148.5L226 151.8L227.1 155L228.2 158L229.2 160.9L230.3 163.7L231.4 166.4L232.4 168.8L233.5 171.2L234.6 173.4L235.7 175.4L236.7 177.4L237.8 179.2L238.9 180.8L240 182.4L241 183.8L242.1 185.1L243.2 186.3L244.3 187.4L245.3 188.4L246.4 189.4L247.5 190.2L248.6 190.9L249.6 191.6L250.7 192.2L251.8 192.7L252.9 193.2L253.9 193.6L255 193.9L256.1 194.2L257.1 194.4L258.2 194.6L259.3 194.7L260.4 194.8L261.4 194.9L262.5 194.9L263.6 194.8L264.7 194.8L265.7 194.7L266.8 194.5L267.9 194.4L269 194.2L270 194L271.1 193.7L272.2 193.4L273.3 193.1L274.3 192.8L275.4 192.4L276.5 192.1L277.6 191.7L278.6 191.2L279.7 190.8L280.8 190.3L281.8 189.8L282.9 189.3L284 188.7L285.1 188.2L286.1 187.6L287.2 186.9L288.3 186.3L289.4 185.6L290.4 184.9L291.5 184.2L292.6 183.5L293.7 182.7L294.7 181.9L295.8 181.1L296.9 180.3L298 179.4L299 178.5L300.1 177.6L301.2 176.6L302.3 175.6L303.3 174.6L304.4 173.6L305.5 172.5L306.5 171.4L307.6 170.2L308.7 169L309.8 167.8L310.8 166.5L311.9 165.2L313 163.9L314.1 162.5L315.1 161.1L316.2 159.6L317.3 158.1L318.4 156.6L319.4 155L320.5 153.3L321.6 151.6L322.7 149.9L323.7 148.1L324.8 146.2L325.9 144.3L327 142.4L328 140.3L329.1 138.3" stroke="#b47424"/>
<path d="M71.4 216.4L72.4 216.4L73.5 216.3L74.6 216.3L75.7 216.2L76.7 216.2L77.8 216.1L78.9 216.1L80 216L81 216L82.1 215.9L83.2 215.9L84.2 215.8L85.3 215.7L86.4 215.7L87.5 215.6L88.5 215.6L89.6 215.5L90.7 215.4L91.8 215.4L92.8 215.3L93.9 215.2L95 215.1L96.1 215.1L97.1 215L98.2 214.9L99.3 214.8L100.4 214.7L101.4 214.6L102.5 214.5L103.6 214.4L104.7 214.3L105.7 214.2L106.8 214.1L107.9 213.9L108.9 213.8L110 213.7L111.1 213.5L112.2 213.4L113.2 213.2L114.3 213L115.4 212.9L116.5 212.7L117.5 212.5L118.6 212.3L119.7 212L120.8 211.8L121.8 211.5L122.9 211.3L124 211L125.1 210.7L126.1 210.4L127.2 210L128.3 209.7L129.4 209.3L130.4 208.9L131.5 208.5L132.6 208L133.6 207.5L134.7 207L135.8 206.4L136.9 205.8L137.9 205.2L139 204.5L140.1 203.8L141.2 203.1L142.2 202.2L143.3 201.4L144.4 200.5L145.5 199.5L146.5 198.5L147.6 197.4L148.7 196.2L149.8 195L150.8 193.6L151.9 192.2L153 190.8L154.1 189.2L155.1 187.5L156.2 185.8L157.3 183.9L158.3 181.9L159.4 179.9L160.5 177.7L161.6 175.4L162.6 173L163.7 170.4L164.8 167.8L165.9 165L166.9 162.1L168 159L169.1 155.9L170.2 152.6L171.2 149.2L172.3 145.7L173.4 142L174.5 138.3L175.5 134.5L176.6 130.6L177.7 126.6L178.8 122.5L179.8 118.5L180.9 114.3L182 110.2L183 106.1L184.1 102L185.2 98L186.3 94.1L187.3 90.3L188.4 86.6L189.5 83.1L190.6 79.8L191.6 76.7L192.7 73.8L193.8 71.2L194.9 68.9L195.9 67L197 65.3L198.1 64L199.2 63L200.2 62.5L201.3 62.2L202.4 62.5L203.5 63.2L204.5 64.4L205.6 66.1L206.7 68.2L207.7 70.8L208.8 73.7L209.9 76.9L211 80.5L212 84.3L213.1 88.3L214.2 92.5L215.3 96.9L216.3 101.3L217.4 105.8L218.5 110.4L219.6 114.9L220.6 119.4L221.7 123.8L222.8 128.1L223.9 132.4L224.9 136.5L226 140.4L227.1 144.2L228.2 147.9L229.2 151.4L230.3 154.7L231.4 157.9L232.4 160.8L233.5 163.6L234.6 166.3L235.7 168.8L236.7 171.1L237.8 173.3L238.9 175.3L240 177.1L241 178.9L242.1 180.5L243.2 181.9L244.3 183.3L245.3 184.5L246.4 185.7L247.5 186.7L248.6 187.6L249.6 188.4L250.7 189.2L251.8 189.9L252.9 190.4L253.9 190.9L255 191.4L256.1 191.8L257.1 192.1L258.2 192.3L259.3 192.6L260.4 192.7L261.4 192.8L262.5 192.9L263.6 192.9L264.7 192.8L265.7 192.8L266.8 192.7L267.9 192.5L269 192.3L270 192.1L271.1 191.9L272.2 191.6L273.3 191.3L274.3 190.9L275.4 190.6L276.5 190.2L277.6 189.7L278.6 189.3L279.7 188.8L280.8 188.3L281.8 187.8L282.9 187.2L284 186.6L285.1 186L286.1 185.4L287.2 184.7L288.3 184L289.4 183.3L290.4 182.5L291.5 181.8L292.6 181L293.7 180.1L294.7 179.3L295.8 178.4L296.9 177.5L298 176.5L299 175.5L300.1 174.5L301.2 173.5L302.3 172.4L303.3 171.3L304.4 170.2L305.5 169L306.5 167.7L307.6 166.5L308.7 165.2L309.8 163.9L310.8 162.5L311.9 161.1L313 159.6L314.1 158.1L315.1 156.5L316.2 154.9L317.3 153.3L318.4 151.6L319.4 149.9L320.5 148L321.6 146.2L322.7 144.3L323.7 142.3L324.8 140.3L325.9 138.2L327 136L328 133.8L329.1 131.5" stroke="#30d040"/>
<path d="M71.4 216.4L72.4 216.4L73.5 216.3L74.6 216.3L75.7 216.2L76.7 216.2L77.8 216.1L78.9 216.1L80 216L81 216L82.1 215.9L83.2 215.9L84.2 215.8L85.3 215.7L86.4 215.7L87.5 215.6L88.5 215.6L89.6 215.5L90.7 215.4L91.8 215.4L92.8 215.3L93.9 215.2L95 215.1L96.1 215.1L97.1 215L98.2 214.9L99.3 214.8L100.4 214.7L101.4 214.6L102.5 214.5L103.6 214.4L104.7 214.3L105.7 214.2L106.8 214.1L107.9 213.9L108.9 213.8L110 213.7L111.1 213.5L112.2 213.4L113.2 213.2L114.3 213.1L115.4 212.9L116.5 212.7L117.5 212.5L118.6 212.3L119.7 212.1L120.8 211.8L121.8 211.6L122.9 211.3L124 211L125.1 210.7L126.1 210.4L127.2 210.1L128.3 209.7L129.4 209.3L130.4 208.9L131.5 208.5L132.6 208L133.6 207.6L134.7 207L135.8 206.5L136.9 205.9L137.9 205.3L139 204.6L140.1 203.9L141.2 203.1L142.2 202.3L143.3 201.5L144.4 200.6L145.5 199.6L146.5 198.6L147.6 197.5L148.7 196.3L149.8 195.1L150.8 193.7L151.9 192.3L153 190.8L154.1 189.3L155.1 187.6L156.2 185.8L157.3 183.9L158.3 182L159.4 179.9L160.5 177.6L161.6 175.3L162.6 172.8L163.7 170.2L164.8 167.5L165.9 164.7L166.9 161.7L168 158.5L169.1 155.2L170.2 151.8L171.2 148.3L172.3 144.6L173.4 140.7L174.5 136.8L175.5 132.7L176.6 128.5L177.7 124.2L178.8 119.9L179.8 115.4L180.9 110.9L182 106.3L183 101.7L184.1 97.1L185.2 92.5L186.3 88L187.3 83.6L188.4 79.2L189.5 75L190.6 70.9L191.6 67.1L192.7 63.4L193.8 60L194.9 56.9L195.9 54.1L197 51.6L198.1 49.5L199.2 47.7L200.2 46.3L201.3 45.4L202.4 44.8L203.5 44.7L204.5 45.1L205.6 46L206.7 47.5L207.7 49.5L208.8 51.9L209.9 54.8L211 58.1L212 61.8L213.1 65.8L214.2 70.1L215.3 74.6L216.3 79.3L217.4 84.1L218.5 89.1L219.6 94.1L220.6 99.1L221.7 104.1L222.8 109.1L223.9 114L224.9 118.7L226 123.4L227.1 128L228.2 132.3L229.2 136.5L230.3 140.6L231.4 144.4L232.4 148.1L233.5 151.6L234.6 154.9L235.7 158L236.7 160.9L237.8 163.6L238.9 166.2L240 168.6L241 170.8L242.1 172.9L243.2 174.8L244.3 176.6L245.3 178.2L246.4 179.7L247.5 181L248.6 182.3L249.6 183.4L250.7 184.4L251.8 185.4L252.9 186.2L253.9 186.9L255 187.6L256.1 188.1L257.1 188.6L258.2 189L259.3 189.4L260.4 189.6L261.4 189.8L262.5 190L263.6 190.1L264.7 190.2L265.7 190.2L266.8 190.1L267.9 190L269 189.9L270 189.7L271.1 189.5L272.2 189.2L273.3 188.9L274.3 188.6L275.4 188.2L276.5 187.8L277.6 187.4L278.6 187L279.7 186.5L280.8 185.9L281.8 185.4L282.9 184.8L284 184.2L285.1 183.5L286.1 182.8L287.2 182.1L288.3 181.4L289.4 180.6L290.4 179.8L291.5 179L292.6 178.1L293.7 177.2L294.7 176.3L295.8 175.3L296.9 174.3L298 173.3L299 172.2L300.1 171.1L301.2 170L302.3 168.8L303.3 167.6L304.4 166.3L305.5 165L306.5 163.7L307.6 162.3L308.7 160.9L309.8 159.5L310.8 158L311.9 156.4L313 154.8L314.1 153.2L315.1 151.5L316.2 149.7L317.3 147.9L318.4 146L319.4 144.1L320.5 142.2L321.6 140.1L322.7 138L323.7 135.9L324.8 133.6L325.9 131.4L327 129L328 126.6L329.1 124.1" stroke="#d02890"/>
</g>
<rect x="49" y="18.4" width="301.5" height="224.1" fill="none" stroke="#000" stroke-width="1.8"/>
<path d="M49.5 223.7H54M49.5 186.4H54M49.5 149.1H54M49.5 111.8H54M49.5 74.5H54M49.5 37.2H54M49.5 205H52M49.5 167.8H52M49.5 130.4H52M49.5 93.1H52M49.5 55.8H52M70.5 242V237.6M113.6 242V237.6M156.7 242V237.6M199.8 242V237.6M242.9 242V237.6M286 242V237.6M329.1 242V237.6M92.1 242V239.6M135.2 242V239.6M178.2 242V239.6M221.4 242V239.6M264.5 242V239.6M307.6 242V239.6" stroke="#000" stroke-width="1.5" fill="none"/>
<text x="44.3" y="228.3" font-size="13.5" text-anchor="end" fill="#222">0</text>
<text x="44.3" y="191" font-size="13.5" text-anchor="end" fill="#222">5</text>
<text x="44.3" y="153.7" font-size="13.5" text-anchor="end" fill="#222">10</text>
<text x="44.3" y="116.4" font-size="13.5" text-anchor="end" fill="#222">15</text>
<text x="44.3" y="79.1" font-size="13.5" text-anchor="end" fill="#222">20</text>
<text x="44.3" y="41.8" font-size="13.5" text-anchor="end" fill="#222">25</text>
<text x="70.5" y="258.6" font-size="13.5" text-anchor="middle" fill="#222">1.0</text>
<text x="113.6" y="258.6" font-size="13.5" text-anchor="middle" fill="#222">1.1</text>
<text x="156.7" y="258.6" font-size="13.5" text-anchor="middle" fill="#222">1.2</text>
<text x="199.8" y="258.6" font-size="13.5" text-anchor="middle" fill="#222">1.3</text>
<text x="242.9" y="258.6" font-size="13.5" text-anchor="middle" fill="#222">1.4</text>
<text x="286" y="258.6" font-size="13.5" text-anchor="middle" fill="#222">1.5</text>
<text x="329.1" y="258.6" font-size="13.5" text-anchor="middle" fill="#222">1.6</text>
<text x="199.75" y="282.4" font-size="19" text-anchor="middle" fill="#000">Potential / V <tspan font-style="italic">vs.</tspan> SCE</text>
<text transform="translate(18.4 142) rotate(-90)" x="0" y="0" font-size="19" text-anchor="middle" fill="#000">Current / μA</text>
<text x="12.6" y="19.7" font-size="28" fill="#000">a</text>
<text x="182.9" y="306.2" font-size="17" text-anchor="middle" style="font-family:'Liberation Serif',serif" fill="#000">(<tspan font-weight="bold">a</tspan>)</text>
<text x="86" y="57.5" font-size="13" fill="#222">800 μM</text>
<text x="91.1" y="201.7" font-size="12.7" fill="#222">1 μM</text>
<path d="M105.6 185.5V70" stroke="#888" stroke-width="0.8"/>
<path d="M105.6 66L104 71.2H107.2Z" fill="#222"/>
<ellipse cx="185.8" cy="211.2" rx="26.6" ry="5.9" fill="none" stroke="#555" stroke-width="0.9" stroke-dasharray="1.3 1.2"/>
<path d="M187.3 205L252.3 124.4" stroke="#444" stroke-width="0.9" stroke-dasharray="1.5 1.3" fill="none"/>
<path d="M256.2 119.4L253.6 125.5L250.9 123.3Z" fill="#222"/>
<rect x="240.5" y="26.3" width="90.3" height="66.6" fill="#fff" stroke="#555" stroke-width="0.8"/>
<g clip-path="url(#cia)" fill="none" stroke-width="1.3">
<path d="M244.8 82.6L245.5 82.4L246.2 82.2L246.9 82L247.6 81.7L248.3 81.5L249 81.3L249.7 81.1L250.4 80.8L251.1 80.6L251.7 80.4L252.4 80.1L253.1 79.9L253.8 79.6L254.5 79.4L255.2 79.2L255.9 78.9L256.6 78.7L257.3 78.4L258 78.1L258.7 77.9L259.4 77.6L260.1 77.4L260.8 77.1L261.5 76.9L262.2 76.6L262.9 76.3L263.6 76.1L264.3 75.8L265 75.5L265.6 75.2L266.3 75L267 74.7L267.7 74.4L268.4 74.1L269.1 73.9L269.8 73.6L270.5 73.3L271.2 73L271.9 72.8L272.6 72.5L273.3 72.2L274 71.9L274.7 71.6L275.4 71.3L276.1 71.1L276.8 70.8L277.5 70.5L278.2 70.2L278.9 69.9L279.5 69.6L280.2 69.3L280.9 69L281.6 68.8L282.3 68.5L283 68.2L283.7 67.9L284.4 67.6L285.1 67.3L285.8 67L286.5 66.7L287.2 66.4L287.9 66.1L288.6 65.9L289.3 65.6L290 65.3L290.7 65L291.4 64.7L292.1 64.4L292.8 64.1L293.4 63.8L294.1 63.5L294.8 63.1L295.5 62.8L296.2 62.5L296.9 62.2L297.6 61.9L298.3 61.6L299 61.2L299.7 60.9L300.4 60.6L301.1 60.3L301.8 59.9L302.5 59.6L303.2 59.2L303.9 58.9L304.6 58.5L305.3 58.2L306 57.8L306.7 57.4L307.3 57.1L308 56.7L308.7 56.3L309.4 55.9L310.1 55.5L310.8 55.1L311.5 54.7L312.2 54.3L312.9 53.9L313.6 53.4L314.3 53L315 52.5L315.7 52.1L316.4 51.6L317.1 51.1L317.8 50.7L318.5 50.2L319.2 49.7L319.9 49.2L320.6 48.6L321.2 48.1L321.9 47.6L322.6 47L323.3 46.4L324 45.9L324.7 45.3L325.4 44.7L326.1 44.1L326.8 43.4L327.5 42.8" stroke="#606060"/>
<path d="M244.8 80.2L245.5 80L246.2 79.9L246.9 79.7L247.6 79.5L248.3 79.3L249 79.1L249.7 78.9L250.4 78.6L251.1 78.4L251.7 78.1L252.4 77.8L253.1 77.5L253.8 77.2L254.5 76.9L255.2 76.6L255.9 76.3L256.6 76L257.3 75.6L258 75.3L258.7 74.9L259.4 74.6L260.1 74.2L260.8 73.9L261.5 73.5L262.2 73.1L262.9 72.7L263.6 72.3L264.3 71.9L265 71.5L265.6 71.1L266.3 70.7L267 70.3L267.7 69.9L268.4 69.5L269.1 69.1L269.8 68.7L270.5 68.3L271.2 67.9L271.9 67.5L272.6 67.1L273.3 66.7L274 66.3L274.7 65.9L275.4 65.5L276.1 65.1L276.8 64.7L277.5 64.3L278.2 63.9L278.9 63.5L279.5 63.1L280.2 62.8L280.9 62.4L281.6 62L282.3 61.7L283 61.3L283.7 61L284.4 60.7L285.1 60.4L285.8 60L286.5 59.7L287.2 59.4L287.9 59.1L288.6 58.9L289.3 58.6L290 58.3L290.7 58.1L291.4 57.8L292.1 57.6L292.8 57.3L293.4 57.1L294.1 56.8L294.8 56.6L295.5 56.4L296.2 56.1L296.9 55.9L297.6 55.6L298.3 55.4L299 55.2L299.7 54.9L300.4 54.6L301.1 54.4L301.8 54.1L302.5 53.8L303.2 53.5L303.9 53.2L304.6 52.9L305.3 52.6L306 52.3L306.7 52L307.3 51.7L308 51.3L308.7 51L309.4 50.6L310.1 50.3L310.8 49.9L311.5 49.5L312.2 49.2L312.9 48.8L313.6 48.4L314.3 48L315 47.6L315.7 47.2L316.4 46.8L317.1 46.4L317.8 45.9L318.5 45.5L319.2 45.1L319.9 44.6L320.6 44.2L321.2 43.7L321.9 43.2L322.6 42.8L323.3 42.3L324 41.8L324.7 41.3L325.4 40.8L326.1 40.3L326.8 39.8L327.5 39.3" stroke="#f07080"/>
<path d="M244.8 78L245.5 78L246.2 78L246.9 78L247.6 77.9L248.3 77.8L249 77.7L249.7 77.5L250.4 77.3L251.1 77L251.7 76.7L252.4 76.4L253.1 76.1L253.8 75.7L254.5 75.4L255.2 75L255.9 74.5L256.6 74.1L257.3 73.6L258 73.1L258.7 72.6L259.4 72L260.1 71.5L260.8 70.9L261.5 70.4L262.2 69.8L262.9 69.2L263.6 68.5L264.3 67.9L265 67.3L265.6 66.6L266.3 66L267 65.3L267.7 64.7L268.4 64L269.1 63.3L269.8 62.7L270.5 62L271.2 61.3L271.9 60.7L272.6 60L273.3 59.4L274 58.7L274.7 58.1L275.4 57.4L276.1 56.8L276.8 56.2L277.5 55.6L278.2 55L278.9 54.4L279.5 53.9L280.2 53.3L280.9 52.8L281.6 52.3L282.3 51.8L283 51.3L283.7 50.8L284.4 50.4L285.1 50L285.8 49.6L286.5 49.2L287.2 48.9L287.9 48.6L288.6 48.3L289.3 48L290 47.8L290.7 47.6L291.4 47.4L292.1 47.3L292.8 47.2L293.4 47L294.1 47L294.8 46.9L295.5 46.8L296.2 46.8L296.9 46.7L297.6 46.7L298.3 46.6L299 46.6L299.7 46.5L300.4 46.5L301.1 46.4L301.8 46.3L302.5 46.3L303.2 46.2L303.9 46.1L304.6 46L305.3 45.9L306 45.7L306.7 45.6L307.3 45.5L308 45.3L308.7 45.1L309.4 45L310.1 44.8L310.8 44.6L311.5 44.4L312.2 44.2L312.9 44L313.6 43.7L314.3 43.5L315 43.2L315.7 42.9L316.4 42.6L317.1 42.3L317.8 42L318.5 41.7L319.2 41.4L319.9 41L320.6 40.7L321.2 40.3L321.9 39.9L322.6 39.5L323.3 39.1L324 38.6L324.7 38.2L325.4 37.7L326.1 37.2L326.8 36.7L327.5 36.2" stroke="#e070f0"/>
<path d="M244.8 77L245.5 77L246.2 77L246.9 76.9L247.6 76.9L248.3 76.7L249 76.6L249.7 76.4L250.4 76.1L251.1 75.9L251.7 75.6L252.4 75.3L253.1 74.9L253.8 74.6L254.5 74.2L255.2 73.7L255.9 73.3L256.6 72.8L257.3 72.4L258 71.9L258.7 71.3L259.4 70.8L260.1 70.3L260.8 69.7L261.5 69.1L262.2 68.5L262.9 67.9L263.6 67.3L264.3 66.7L265 66.1L265.6 65.4L266.3 64.8L267 64.2L267.7 63.5L268.4 62.9L269.1 62.2L269.8 61.6L270.5 60.9L271.2 60.3L271.9 59.7L272.6 59L273.3 58.4L274 57.8L274.7 57.2L275.4 56.6L276.1 56L276.8 55.4L277.5 54.9L278.2 54.4L278.9 53.8L279.5 53.3L280.2 52.8L280.9 52.4L281.6 51.9L282.3 51.5L283 51.1L283.7 50.7L284.4 50.3L285.1 50L285.8 49.7L286.5 49.4L287.2 49.1L287.9 48.8L288.6 48.6L289.3 48.4L290 48.2L290.7 48L291.4 47.9L292.1 47.8L292.8 47.7L293.4 47.6L294.1 47.5L294.8 47.5L295.5 47.4L296.2 47.3L296.9 47.3L297.6 47.2L298.3 47.1L299 47L299.7 46.9L300.4 46.8L301.1 46.7L301.8 46.5L302.5 46.4L303.2 46.2L303.9 46L304.6 45.8L305.3 45.5L306 45.3L306.7 45L307.3 44.7L308 44.5L308.7 44.1L309.4 43.8L310.1 43.5L310.8 43.1L311.5 42.8L312.2 42.4L312.9 42L313.6 41.6L314.3 41.2L315 40.8L315.7 40.4L316.4 39.9L317.1 39.5L317.8 39L318.5 38.6L319.2 38.1L319.9 37.6L320.6 37.2L321.2 36.7L321.9 36.2L322.6 35.7L323.3 35.1L324 34.6L324.7 34.1L325.4 33.6L326.1 33.1L326.8 32.5L327.5 32" stroke="#6666f6"/>
</g>
<path d="M240.9 85.7H243.2M240.9 68.4H243.2M240.9 51H243.2M240.9 33.7H243.2M240.9 77H242.2M240.9 59.7H242.2M240.9 42.4H242.2M245 92.5V90.2M265.4 92.5V90.2M285.8 92.5V90.2M306.2 92.5V90.2M326.6 92.5V90.2M255.2 92.5V91.2M275.6 92.5V91.2M296 92.5V91.2M316.4 92.5V91.2M336.8 92.5V91.2" stroke="#444" stroke-width="0.7" fill="none"/>
<text x="238.7" y="88.2" font-size="6.6" text-anchor="end" fill="#333">1.0</text>
<text x="238.7" y="70.9" font-size="6.6" text-anchor="end" fill="#333">1.5</text>
<text x="238.7" y="53.5" font-size="6.6" text-anchor="end" fill="#333">2.0</text>
<text x="238.7" y="36.2" font-size="6.6" text-anchor="end" fill="#333">2.5</text>
<text x="245" y="99.2" font-size="6.4" text-anchor="middle" fill="#333">1.15</text>
<text x="265.4" y="99.2" font-size="6.4" text-anchor="middle" fill="#333">1.20</text>
<text x="285.8" y="99.2" font-size="6.4" text-anchor="middle" fill="#333">1.25</text>
<text x="306.2" y="99.2" font-size="6.4" text-anchor="middle" fill="#333">1.30</text>
<text x="326.6" y="99.2" font-size="6.4" text-anchor="middle" fill="#333">1.35</text>
<text x="285.3" y="107.2" font-size="8.6" text-anchor="middle" fill="#222" textLength="69" lengthAdjust="spacingAndGlyphs">Potential / V <tspan font-style="italic">vs.</tspan> SCE</text>
<text transform="translate(228.3 64.3) rotate(-90)" font-size="8" text-anchor="middle" fill="#222" textLength="40" lengthAdjust="spacingAndGlyphs">Current / μA</text>
<text x="246" y="47.8" font-size="6.2" fill="#333" textLength="12" lengthAdjust="spacingAndGlyphs">8 μM</text>
<text x="246" y="69.2" font-size="6.2" fill="#333" textLength="12" lengthAdjust="spacingAndGlyphs">1 μM</text>
<path d="M251.4 63.5V53" stroke="#888" stroke-width="0.6"/><path d="M251.4 51.6L250.6 54.2H252.2Z" fill="#555"/>
<g clip-path="url(#cb)" fill="none" stroke-width="2" stroke-linejoin="round">
<path d="M449.7 201.9L450.7 200.9L451.7 200.2L452.6 199.8L453.6 199.5L454.6 199.2L455.6 199L456.6 198.8L457.5 198.6L458.5 198.4L459.5 198.3L460.5 198.1L461.4 198L462.4 197.9L463.4 197.8L464.4 197.6L465.4 197.5L466.3 197.4L467.3 197.3L468.3 197.2L469.3 197.1L470.3 197L471.2 196.9L472.2 196.8L473.2 196.7L474.2 196.7L475.1 196.6L476.1 196.5L477.1 196.4L478.1 196.4L479.1 196.3L480 196.2L481 196.2L482 196.1L483 196.1L484 196L484.9 196L485.9 195.9L486.9 195.8L487.9 195.8L488.9 195.7L489.8 195.7L490.8 195.6L491.8 195.6L492.8 195.5L493.7 195.4L494.7 195.4L495.7 195.3L496.7 195.3L497.7 195.2L498.6 195.2L499.6 195.1L500.6 195.1L501.6 195L502.6 195L503.5 194.9L504.5 194.9L505.5 194.8L506.5 194.7L507.4 194.7L508.4 194.6L509.4 194.6L510.4 194.5L511.4 194.5L512.3 194.4L513.3 194.4L514.3 194.3L515.3 194.3L516.3 194.2L517.2 194.2L518.2 194.1L519.2 194.1L520.2 194L521.1 194L522.1 193.9L523.1 193.8L524.1 193.8L525.1 193.7L526 193.7L527 193.6L528 193.6L529 193.5L530 193.5L530.9 193.4L531.9 193.4L532.9 193.3L533.9 193.3L534.9 193.2L535.8 193.2L536.8 193.1L537.8 193.1L538.8 193L539.7 193L540.7 192.9L541.7 192.9L542.7 192.8L543.7 192.8L544.6 192.7L545.6 192.7L546.6 192.6L547.6 192.6L548.6 192.5L549.5 192.4L550.5 192.4L551.5 192.3L552.5 192.3L553.4 192.2L554.4 192.1L555.4 192.1L556.4 192L557.4 191.9L558.3 191.9L559.3 191.8L560.3 191.7L561.3 191.6L562.3 191.5L563.2 191.4L564.2 191.3L565.2 191.2L566.2 191.1L567.2 190.9L568.1 190.8L569.1 190.7L570.1 190.5L571.1 190.4L572 190.2L573 190.1L574 189.9L575 189.8L576 189.7L576.9 189.5L577.9 189.4L578.9 189.2L579.9 189.1L580.9 188.9L581.8 188.8L582.8 188.7L583.8 188.5L584.8 188.4L585.7 188.2L586.7 188.1L587.7 187.9L588.7 187.7L589.7 187.6L590.6 187.4L591.6 187.2L592.6 187L593.6 186.8L594.6 186.6L595.5 186.3L596.5 186.1L597.5 185.8L598.5 185.5L599.4 185.2L600.4 184.8L601.4 184.5L602.4 184L603.4 183.6L604.3 183.1L605.3 182.5L606.3 181.9L607.3 181.3L608.3 180.6L609.2 179.8L610.2 179L611.2 178.1L612.2 177.1L613.2 176.1L614.1 174.9L615.1 173.8L616.1 172.6L617.1 171.4L618 170.2L619 169.1L620 168.1L621 167.2L622 166.4L622.9 165.6L623.9 164.9L624.9 164.3L625.9 163.8L626.9 163.4L627.8 163.1L628.8 162.8L629.8 162.6L630.8 162.4L631.7 162.3L632.7 162.3L633.7 162.2L634.7 162.2L635.7 162.3L636.6 162.4L637.6 162.5L638.6 162.6L639.6 162.7L640.6 162.8L641.5 162.9L642.5 163L643.5 163.1L644.5 163.2L645.5 163.2L646.4 163.2L647.4 163.1L648.4 163L649.4 162.9L650.3 162.6L651.3 162.3L652.3 161.9L653.3 161.5L654.3 160.9L655.2 160.4L656.2 159.8L657.2 159.2L658.2 158.5L659.2 157.8L660.1 157L661.1 156.2L662.1 155.4L663.1 154.6L664 153.7L665 152.9L666 152L667 151L668 150.1L668.9 149.1L669.9 148.1L670.9 147.2L671.9 146.3L672.9 145.4L673.8 144.5L674.8 143.6L675.8 142.7L676.8 141.8L677.8 140.8L678.7 139.7L679.7 138.6L680.7 137.3L681.7 136L682.6 134.6L683.6 133.2L684.6 131.7L685.6 130.1L686.6 128.5L687.5 126.8L688.5 125L689.5 123.2L690.5 121.4L691.5 119.4L692.4 117.4L693.4 115.2L693.9 114L692.9 120.2L691.9 124.8L691 128.1L690 130.9L689 133.4L688 135.8L687 138L686.1 140.2L685.1 142.2L684.1 144.1L683.1 146L682.2 147.7L681.2 149.4L680.2 151.1L679.2 152.7L678.2 154.2L677.3 155.7L676.3 157.1L675.3 158.5L674.3 159.8L673.3 161.1L672.4 162.4L671.4 163.5L670.4 164.7L669.4 165.8L668.5 166.8L667.5 167.8L666.5 168.8L665.5 169.7L664.5 170.6L663.6 171.5L662.6 172.4L661.6 173.2L660.6 174L659.6 174.7L658.7 175.5L657.7 176.2L656.7 176.9L655.7 177.5L654.7 178.2L653.8 178.8L652.8 179.5L651.8 180.1L650.8 180.8L649.9 181.4L648.9 181.9L647.9 182.5L646.9 183L645.9 183.4L645 183.8L644 184.2L643 184.5L642 184.7L641 185L640.1 185.2L639.1 185.5L638.1 185.7L637.1 185.9L636.2 186.1L635.2 186.3L634.2 186.5L633.2 186.8L632.2 187L631.3 187.2L630.3 187.4L629.3 187.7L628.3 187.9L627.3 188.1L626.4 188.3L625.4 188.6L624.4 188.8L623.4 189.1L622.5 189.3L621.5 189.6L620.5 189.8L619.5 190.1L618.5 190.4L617.6 190.7L616.6 191L615.6 191.3L614.6 191.6L613.6 191.9L612.7 192.2L611.7 192.5L610.7 192.8L609.7 193.1L608.7 193.4L607.8 193.6L606.8 193.9L605.8 194.1L604.8 194.3L603.9 194.6L602.9 194.8L601.9 195L600.9 195.2L599.9 195.4L599 195.7L598 195.9L597 196.1L596 196.3L595 196.5L594.1 196.7L593.1 196.8L592.1 197L591.1 197.2L590.2 197.3L589.2 197.5L588.2 197.7L587.2 197.8L586.2 197.9L585.3 198.1L584.3 198.2L583.3 198.3L582.3 198.4L581.3 198.5L580.4 198.6L579.4 198.7L578.4 198.8L577.4 198.9L576.4 199L575.5 199.1L574.5 199.2L573.5 199.3L572.5 199.4L571.6 199.5L570.6 199.6L569.6 199.7L568.6 199.8L567.6 199.9L566.7 199.9L565.7 200L564.7 200.1L563.7 200.2L562.7 200.2L561.8 200.3L560.8 200.4L559.8 200.5L558.8 200.5L557.9 200.6L556.9 200.7L555.9 200.8L554.9 200.8L553.9 200.9L553 201L552 201L551 201.1L550 201.2L549 201.2L548.1 201.3L547.1 201.4L546.1 201.4L545.1 201.5L544.2 201.5L543.2 201.6L542.2 201.7L541.2 201.7L540.2 201.8L539.3 201.9L538.3 201.9L537.3 202L536.3 202L535.3 202.1L534.4 202.2L533.4 202.2L532.4 202.3L531.4 202.4L530.4 202.4L529.5 202.5L528.5 202.6L527.5 202.6L526.5 202.7L525.6 202.7L524.6 202.8L523.6 202.9L522.6 202.9L521.6 203L520.7 203.1L519.7 203.1L518.7 203.2L517.7 203.2L516.7 203.3L515.8 203.4L514.8 203.4L513.8 203.5L512.8 203.5L511.9 203.6L510.9 203.6L509.9 203.7L508.9 203.8L507.9 203.8L507 203.9L506 203.9L505 204L504 204L503 204.1L502.1 204.2L501.1 204.2L500.1 204.3L499.1 204.3L498.1 204.4L497.2 204.4L496.2 204.5L495.2 204.5L494.2 204.6L493.3 204.6L492.3 204.7L491.3 204.7L490.3 204.8L489.3 204.8L488.4 204.9L487.4 205L486.4 205L485.4 205.1L484.4 205.1L483.5 205.2L482.5 205.2L481.5 205.3L480.5 205.3L479.6 205.4L478.6 205.4L477.6 205.5L476.6 205.5L475.6 205.6L474.7 205.6L473.7 205.7L472.7 205.7L471.7 205.8L470.7 205.8L469.8 205.9L468.8 205.9L467.8 206L466.8 206L465.8 206.1L464.9 206.1L463.9 206.1L462.9 206.2L461.9 206.2L461 206.3L460 206.3L459 206.4L458 206.4L457 206.5L456.1 206.5L455.1 206.6L454.1 206.6L453.1 206.6L452.1 206.7L451.2 206.7L450.2 206.8L449.7 206.8" stroke="#000000"/>
<path d="M449.7 201.4L450.7 200.3L451.7 199.6L452.6 199.2L453.6 198.8L454.6 198.5L455.6 198.3L456.6 198.1L457.5 197.9L458.5 197.7L459.5 197.5L460.5 197.4L461.4 197.2L462.4 197.1L463.4 197L464.4 196.9L465.4 196.7L466.3 196.6L467.3 196.5L468.3 196.4L469.3 196.3L470.3 196.2L471.2 196.1L472.2 196L473.2 195.9L474.2 195.8L475.1 195.7L476.1 195.7L477.1 195.6L478.1 195.5L479.1 195.4L480 195.4L481 195.3L482 195.2L483 195.1L484 195.1L484.9 195L485.9 194.9L486.9 194.9L487.9 194.8L488.9 194.7L489.8 194.7L490.8 194.6L491.8 194.5L492.8 194.5L493.7 194.4L494.7 194.3L495.7 194.2L496.7 194.2L497.7 194.1L498.6 194L499.6 194L500.6 193.9L501.6 193.8L502.6 193.8L503.5 193.7L504.5 193.6L505.5 193.6L506.5 193.5L507.4 193.4L508.4 193.4L509.4 193.3L510.4 193.2L511.4 193.2L512.3 193.1L513.3 193L514.3 192.9L515.3 192.9L516.3 192.8L517.2 192.7L518.2 192.7L519.2 192.6L520.2 192.5L521.1 192.4L522.1 192.4L523.1 192.3L524.1 192.2L525.1 192.1L526 192L527 192L528 191.9L529 191.8L530 191.7L530.9 191.6L531.9 191.5L532.9 191.5L533.9 191.4L534.9 191.3L535.8 191.2L536.8 191.1L537.8 191L538.8 190.9L539.7 190.8L540.7 190.7L541.7 190.7L542.7 190.6L543.7 190.5L544.6 190.4L545.6 190.3L546.6 190.2L547.6 190.1L548.6 190L549.5 189.9L550.5 189.8L551.5 189.7L552.5 189.6L553.4 189.4L554.4 189.3L555.4 189.2L556.4 189.1L557.4 189L558.3 188.9L559.3 188.8L560.3 188.6L561.3 188.5L562.3 188.4L563.2 188.3L564.2 188.1L565.2 188L566.2 187.9L567.2 187.7L568.1 187.6L569.1 187.5L570.1 187.3L571.1 187.2L572 187L573 186.9L574 186.7L575 186.6L576 186.4L576.9 186.3L577.9 186.1L578.9 185.9L579.9 185.8L580.9 185.6L581.8 185.5L582.8 185.3L583.8 185.2L584.8 185L585.7 184.8L586.7 184.7L587.7 184.5L588.7 184.3L589.7 184.1L590.6 183.9L591.6 183.7L592.6 183.5L593.6 183.3L594.6 183L595.5 182.7L596.5 182.4L597.5 182.1L598.5 181.7L599.4 181.3L600.4 180.9L601.4 180.5L602.4 180L603.4 179.4L604.3 178.9L605.3 178.3L606.3 177.6L607.3 176.9L608.3 176.1L609.2 175.2L610.2 174.3L611.2 173.3L612.2 172.3L613.2 171.1L614.1 169.8L615.1 168.4L616.1 167L617.1 165.6L618 164.2L619 162.9L620 161.6L621 160.4L622 159.3L622.9 158.2L623.9 157.2L624.9 156.2L625.9 155.4L626.9 154.6L627.8 153.9L628.8 153.3L629.8 152.7L630.8 152.2L631.7 151.8L632.7 151.5L633.7 151.3L634.7 151.1L635.7 150.9L636.6 150.8L637.6 150.7L638.6 150.7L639.6 150.7L640.6 150.7L641.5 150.7L642.5 150.8L643.5 150.9L644.5 151.1L645.5 151.2L646.4 151.2L647.4 151.3L648.4 151.3L649.4 151.3L650.3 151.1L651.3 150.9L652.3 150.6L653.3 150.1L654.3 149.7L655.2 149.1L656.2 148.5L657.2 147.8L658.2 147.1L659.2 146.3L660.1 145.4L661.1 144.5L662.1 143.5L663.1 142.6L664 141.6L665 140.6L666 139.5L667 138.4L668 137.3L668.9 136.2L669.9 135L670.9 133.8L671.9 132.7L672.9 131.5L673.8 130.4L674.8 129.3L675.8 128.1L676.8 126.9L677.8 125.6L678.7 124.3L679.7 122.9L680.7 121.4L681.7 119.9L682.6 118.3L683.6 116.6L684.6 114.9L685.6 113.2L686.6 111.4L687.5 109.6L688.5 107.7L689.5 105.8L690.5 103.9L691.5 101.9L692.4 99.8L693.4 97.7L693.9 96.5L692.9 105.8L691.9 112.7L691 117.7L690 121.8L689 125.5L688 128.8L687 131.8L686.1 134.5L685.1 137L684.1 139.3L683.1 141.5L682.2 143.6L681.2 145.5L680.2 147.4L679.2 149.1L678.2 150.8L677.3 152.4L676.3 154L675.3 155.5L674.3 156.9L673.3 158.2L672.4 159.5L671.4 160.8L670.4 162L669.4 163.2L668.5 164.3L667.5 165.4L666.5 166.4L665.5 167.4L664.5 168.4L663.6 169.4L662.6 170.3L661.6 171.2L660.6 172.1L659.6 173L658.7 173.8L657.7 174.6L656.7 175.4L655.7 176.2L654.7 176.9L653.8 177.6L652.8 178.3L651.8 178.9L650.8 179.5L649.9 180.1L648.9 180.7L647.9 181.3L646.9 181.8L645.9 182.3L645 182.7L644 183.2L643 183.6L642 184L641 184.3L640.1 184.7L639.1 185L638.1 185.4L637.1 185.7L636.2 186L635.2 186.4L634.2 186.7L633.2 187L632.2 187.4L631.3 187.7L630.3 188L629.3 188.3L628.3 188.7L627.3 189L626.4 189.3L625.4 189.6L624.4 189.9L623.4 190.2L622.5 190.6L621.5 190.9L620.5 191.2L619.5 191.5L618.5 191.8L617.6 192.2L616.6 192.5L615.6 192.8L614.6 193.1L613.6 193.4L612.7 193.7L611.7 194L610.7 194.3L609.7 194.6L608.7 194.9L607.8 195.1L606.8 195.4L605.8 195.6L604.8 195.9L603.9 196.1L602.9 196.4L601.9 196.6L600.9 196.8L599.9 197.1L599 197.3L598 197.5L597 197.7L596 197.9L595 198.1L594.1 198.3L593.1 198.5L592.1 198.7L591.1 198.9L590.2 199L589.2 199.2L588.2 199.4L587.2 199.5L586.2 199.7L585.3 199.8L584.3 199.9L583.3 200.1L582.3 200.2L581.3 200.3L580.4 200.4L579.4 200.5L578.4 200.6L577.4 200.7L576.4 200.9L575.5 201L574.5 201.1L573.5 201.2L572.5 201.3L571.6 201.4L570.6 201.4L569.6 201.5L568.6 201.6L567.6 201.7L566.7 201.8L565.7 201.9L564.7 202L563.7 202.1L562.7 202.1L561.8 202.2L560.8 202.3L559.8 202.4L558.8 202.5L557.9 202.5L556.9 202.6L555.9 202.7L554.9 202.8L553.9 202.8L553 202.9L552 203L551 203.1L550 203.1L549 203.2L548.1 203.3L547.1 203.3L546.1 203.4L545.1 203.5L544.2 203.6L543.2 203.6L542.2 203.7L541.2 203.8L540.2 203.8L539.3 203.9L538.3 204L537.3 204.1L536.3 204.1L535.3 204.2L534.4 204.3L533.4 204.4L532.4 204.5L531.4 204.5L530.4 204.6L529.5 204.7L528.5 204.8L527.5 204.9L526.5 205L525.6 205L524.6 205.1L523.6 205.2L522.6 205.3L521.6 205.4L520.7 205.5L519.7 205.5L518.7 205.6L517.7 205.7L516.7 205.8L515.8 205.9L514.8 206L513.8 206.1L512.8 206.1L511.9 206.2L510.9 206.3L509.9 206.4L508.9 206.5L507.9 206.6L507 206.7L506 206.7L505 206.8L504 206.9L503 207L502.1 207.1L501.1 207.2L500.1 207.2L499.1 207.3L498.1 207.4L497.2 207.5L496.2 207.6L495.2 207.7L494.2 207.7L493.3 207.8L492.3 207.9L491.3 208L490.3 208L489.3 208.1L488.4 208.2L487.4 208.3L486.4 208.4L485.4 208.4L484.4 208.5L483.5 208.6L482.5 208.6L481.5 208.7L480.5 208.8L479.6 208.8L478.6 208.9L477.6 209L476.6 209L475.6 209.1L474.7 209.2L473.7 209.2L472.7 209.3L471.7 209.4L470.7 209.4L469.8 209.5L468.8 209.5L467.8 209.6L466.8 209.6L465.8 209.7L464.9 209.8L463.9 209.8L462.9 209.9L461.9 209.9L461 210L460 210L459 210.1L458 210.1L457 210.2L456.1 210.2L455.1 210.3L454.1 210.3L453.1 210.4L452.1 210.4L451.2 210.5L450.2 210.5L449.7 210.5" stroke="#ff0000"/>
<path d="M449.7 201.2L450.7 200.1L451.7 199.4L452.6 198.9L453.6 198.6L454.6 198.3L455.6 198L456.6 197.8L457.5 197.6L458.5 197.4L459.5 197.2L460.5 197.1L461.4 197L462.4 196.8L463.4 196.7L464.4 196.6L465.4 196.5L466.3 196.3L467.3 196.2L468.3 196.1L469.3 196L470.3 195.9L471.2 195.8L472.2 195.7L473.2 195.6L474.2 195.5L475.1 195.4L476.1 195.3L477.1 195.2L478.1 195.2L479.1 195.1L480 195L481 194.9L482 194.9L483 194.8L484 194.7L484.9 194.7L485.9 194.6L486.9 194.5L487.9 194.4L488.9 194.4L489.8 194.3L490.8 194.2L491.8 194.1L492.8 194.1L493.7 194L494.7 193.9L495.7 193.8L496.7 193.8L497.7 193.7L498.6 193.6L499.6 193.5L500.6 193.5L501.6 193.4L502.6 193.3L503.5 193.2L504.5 193.2L505.5 193.1L506.5 193L507.4 193L508.4 192.9L509.4 192.8L510.4 192.7L511.4 192.7L512.3 192.6L513.3 192.5L514.3 192.4L515.3 192.3L516.3 192.3L517.2 192.2L518.2 192.1L519.2 192L520.2 191.9L521.1 191.9L522.1 191.8L523.1 191.7L524.1 191.6L525.1 191.5L526 191.4L527 191.3L528 191.2L529 191.2L530 191.1L530.9 191L531.9 190.9L532.9 190.8L533.9 190.7L534.9 190.6L535.8 190.5L536.8 190.4L537.8 190.3L538.8 190.2L539.7 190L540.7 189.9L541.7 189.8L542.7 189.7L543.7 189.6L544.6 189.5L545.6 189.4L546.6 189.3L547.6 189.1L548.6 189L549.5 188.9L550.5 188.8L551.5 188.7L552.5 188.5L553.4 188.4L554.4 188.3L555.4 188.2L556.4 188L557.4 187.9L558.3 187.8L559.3 187.6L560.3 187.5L561.3 187.4L562.3 187.2L563.2 187.1L564.2 187L565.2 186.8L566.2 186.7L567.2 186.6L568.1 186.4L569.1 186.3L570.1 186.1L571.1 186L572 185.8L573 185.7L574 185.5L575 185.3L576 185.2L576.9 185L577.9 184.9L578.9 184.7L579.9 184.6L580.9 184.4L581.8 184.2L582.8 184.1L583.8 183.9L584.8 183.7L585.7 183.6L586.7 183.4L587.7 183.2L588.7 183L589.7 182.8L590.6 182.6L591.6 182.4L592.6 182.2L593.6 181.9L594.6 181.7L595.5 181.4L596.5 181.1L597.5 180.7L598.5 180.3L599.4 179.9L600.4 179.4L601.4 179L602.4 178.4L603.4 177.9L604.3 177.3L605.3 176.6L606.3 176L607.3 175.2L608.3 174.4L609.2 173.5L610.2 172.6L611.2 171.6L612.2 170.5L613.2 169.2L614.1 167.9L615.1 166.5L616.1 165L617.1 163.5L618 162L619 160.6L620 159.2L621 157.9L622 156.6L622.9 155.4L623.9 154.3L624.9 153.2L625.9 152.2L626.9 151.3L627.8 150.4L628.8 149.7L629.8 149L630.8 148.4L631.7 147.9L632.7 147.5L633.7 147.1L634.7 146.8L635.7 146.6L636.6 146.4L637.6 146.3L638.6 146.2L639.6 146.1L640.6 146.1L641.5 146.2L642.5 146.3L643.5 146.4L644.5 146.5L645.5 146.7L646.4 146.8L647.4 146.9L648.4 146.9L649.4 146.9L650.3 146.8L651.3 146.6L652.3 146.3L653.3 145.9L654.3 145.4L655.2 144.9L656.2 144.3L657.2 143.6L658.2 142.8L659.2 142L660.1 141L661.1 140.1L662.1 139.1L663.1 138.1L664 137L665 135.9L666 134.8L667 133.7L668 132.5L668.9 131.3L669.9 130.1L670.9 128.8L671.9 127.6L672.9 126.4L673.8 125.1L674.8 123.9L675.8 122.6L676.8 121.3L677.8 119.9L678.7 118.5L679.7 117L680.7 115.5L681.7 113.8L682.6 112.2L683.6 110.4L684.6 108.7L685.6 106.9L686.6 105L687.5 103.2L688.5 101.3L689.5 99.3L690.5 97.3L691.5 95.3L692.4 93.3L693.4 91.1L693.9 89.9L692.9 100.4L691.9 108.1L691 113.7L690 118.4L689 122.5L688 126.1L687 129.4L686.1 132.4L685.1 135L684.1 137.5L683.1 139.8L682.2 142L681.2 144L680.2 146L679.2 147.8L678.2 149.6L677.3 151.2L676.3 152.8L675.3 154.3L674.3 155.8L673.3 157.2L672.4 158.5L671.4 159.8L670.4 161L669.4 162.2L668.5 163.3L667.5 164.5L666.5 165.5L665.5 166.6L664.5 167.6L663.6 168.6L662.6 169.5L661.6 170.5L660.6 171.4L659.6 172.3L658.7 173.2L657.7 174L656.7 174.8L655.7 175.6L654.7 176.4L653.8 177.1L652.8 177.8L651.8 178.4L650.8 179.1L649.9 179.7L648.9 180.3L647.9 180.8L646.9 181.3L645.9 181.8L645 182.3L644 182.8L643 183.2L642 183.7L641 184.1L640.1 184.5L639.1 184.9L638.1 185.3L637.1 185.6L636.2 186L635.2 186.4L634.2 186.8L633.2 187.1L632.2 187.5L631.3 187.9L630.3 188.2L629.3 188.6L628.3 188.9L627.3 189.3L626.4 189.7L625.4 190L624.4 190.3L623.4 190.7L622.5 191L621.5 191.4L620.5 191.7L619.5 192L618.5 192.4L617.6 192.7L616.6 193L615.6 193.4L614.6 193.7L613.6 194L612.7 194.3L611.7 194.6L610.7 194.9L609.7 195.2L608.7 195.4L607.8 195.7L606.8 196L605.8 196.2L604.8 196.5L603.9 196.7L602.9 196.9L601.9 197.2L600.9 197.4L599.9 197.7L599 197.9L598 198.1L597 198.3L596 198.5L595 198.7L594.1 198.9L593.1 199.1L592.1 199.3L591.1 199.5L590.2 199.7L589.2 199.9L588.2 200L587.2 200.2L586.2 200.3L585.3 200.5L584.3 200.6L583.3 200.7L582.3 200.8L581.3 201L580.4 201.1L579.4 201.2L578.4 201.3L577.4 201.4L576.4 201.5L575.5 201.6L574.5 201.7L573.5 201.8L572.5 201.9L571.6 202L570.6 202.1L569.6 202.2L568.6 202.3L567.6 202.4L566.7 202.5L565.7 202.6L564.7 202.7L563.7 202.8L562.7 202.9L561.8 202.9L560.8 203L559.8 203.1L558.8 203.2L557.9 203.3L556.9 203.3L555.9 203.4L554.9 203.5L553.9 203.6L553 203.6L552 203.7L551 203.8L550 203.9L549 203.9L548.1 204L547.1 204.1L546.1 204.2L545.1 204.2L544.2 204.3L543.2 204.4L542.2 204.5L541.2 204.5L540.2 204.6L539.3 204.7L538.3 204.8L537.3 204.9L536.3 204.9L535.3 205L534.4 205.1L533.4 205.2L532.4 205.3L531.4 205.4L530.4 205.4L529.5 205.5L528.5 205.6L527.5 205.7L526.5 205.8L525.6 205.9L524.6 206L523.6 206.1L522.6 206.2L521.6 206.3L520.7 206.4L519.7 206.5L518.7 206.5L517.7 206.6L516.7 206.7L515.8 206.8L514.8 206.9L513.8 207L512.8 207.1L511.9 207.2L510.9 207.3L509.9 207.4L508.9 207.5L507.9 207.6L507 207.7L506 207.8L505 207.9L504 208L503 208.1L502.1 208.2L501.1 208.3L500.1 208.4L499.1 208.5L498.1 208.6L497.2 208.6L496.2 208.7L495.2 208.8L494.2 208.9L493.3 209L492.3 209.1L491.3 209.2L490.3 209.3L489.3 209.4L488.4 209.4L487.4 209.5L486.4 209.6L485.4 209.7L484.4 209.8L483.5 209.8L482.5 209.9L481.5 210L480.5 210.1L479.6 210.2L478.6 210.2L477.6 210.3L476.6 210.4L475.6 210.4L474.7 210.5L473.7 210.6L472.7 210.6L471.7 210.7L470.7 210.8L469.8 210.8L468.8 210.9L467.8 211L466.8 211L465.8 211.1L464.9 211.1L463.9 211.2L462.9 211.2L461.9 211.3L461 211.3L460 211.4L459 211.5L458 211.5L457 211.6L456.1 211.6L455.1 211.7L454.1 211.7L453.1 211.8L452.1 211.8L451.2 211.8L450.2 211.9L449.7 211.9" stroke="#0000ff"/>
<path d="M449.7 200.8L450.7 199.7L451.7 198.8L452.6 198.3L453.6 197.9L454.6 197.6L455.6 197.3L456.6 197.1L457.5 196.9L458.5 196.7L459.5 196.5L460.5 196.4L461.4 196.2L462.4 196.1L463.4 196L464.4 195.9L465.4 195.7L466.3 195.6L467.3 195.5L468.3 195.4L469.3 195.2L470.3 195.1L471.2 195L472.2 194.9L473.2 194.8L474.2 194.7L475.1 194.6L476.1 194.5L477.1 194.4L478.1 194.3L479.1 194.3L480 194.2L481 194.1L482 194L483 193.9L484 193.8L484.9 193.8L485.9 193.7L486.9 193.6L487.9 193.5L488.9 193.4L489.8 193.3L490.8 193.2L491.8 193.2L492.8 193.1L493.7 193L494.7 192.9L495.7 192.8L496.7 192.7L497.7 192.6L498.6 192.5L499.6 192.5L500.6 192.4L501.6 192.3L502.6 192.2L503.5 192.1L504.5 192L505.5 191.9L506.5 191.8L507.4 191.8L508.4 191.7L509.4 191.6L510.4 191.5L511.4 191.4L512.3 191.3L513.3 191.2L514.3 191.1L515.3 191L516.3 190.9L517.2 190.8L518.2 190.7L519.2 190.6L520.2 190.5L521.1 190.4L522.1 190.3L523.1 190.2L524.1 190.1L525.1 190L526 189.9L527 189.8L528 189.6L529 189.5L530 189.4L530.9 189.3L531.9 189.2L532.9 189L533.9 188.9L534.9 188.8L535.8 188.6L536.8 188.5L537.8 188.3L538.8 188.2L539.7 188L540.7 187.9L541.7 187.7L542.7 187.6L543.7 187.4L544.6 187.2L545.6 187.1L546.6 186.9L547.6 186.8L548.6 186.6L549.5 186.4L550.5 186.3L551.5 186.1L552.5 185.9L553.4 185.8L554.4 185.6L555.4 185.4L556.4 185.3L557.4 185.1L558.3 185L559.3 184.8L560.3 184.6L561.3 184.5L562.3 184.3L563.2 184.2L564.2 184L565.2 183.9L566.2 183.7L567.2 183.6L568.1 183.4L569.1 183.3L570.1 183.1L571.1 182.9L572 182.8L573 182.6L574 182.5L575 182.3L576 182.1L576.9 181.9L577.9 181.8L578.9 181.6L579.9 181.4L580.9 181.3L581.8 181.1L582.8 180.9L583.8 180.7L584.8 180.6L585.7 180.4L586.7 180.2L587.7 180L588.7 179.8L589.7 179.6L590.6 179.4L591.6 179.1L592.6 178.9L593.6 178.6L594.6 178.3L595.5 178L596.5 177.6L597.5 177.2L598.5 176.7L599.4 176.3L600.4 175.7L601.4 175.2L602.4 174.6L603.4 174L604.3 173.3L605.3 172.6L606.3 171.8L607.3 171L608.3 170.2L609.2 169.2L610.2 168.2L611.2 167.1L612.2 165.9L613.2 164.5L614.1 163L615.1 161.4L616.1 159.7L617.1 158L618 156.3L619 154.6L620 153L621 151.4L622 149.9L622.9 148.4L623.9 146.9L624.9 145.5L625.9 144.2L626.9 142.9L627.8 141.8L628.8 140.7L629.8 139.7L630.8 138.8L631.7 138L632.7 137.3L633.7 136.7L634.7 136.2L635.7 135.7L636.6 135.4L637.6 135.1L638.6 134.9L639.6 134.7L640.6 134.7L641.5 134.7L642.5 134.8L643.5 134.9L644.5 135.1L645.5 135.3L646.4 135.5L647.4 135.7L648.4 135.9L649.4 135.9L650.3 135.9L651.3 135.7L652.3 135.5L653.3 135.1L654.3 134.7L655.2 134.2L656.2 133.6L657.2 132.9L658.2 132L659.2 131.1L660.1 130.1L661.1 129L662.1 127.9L663.1 126.7L664 125.5L665 124.3L666 123.1L667 121.8L668 120.4L668.9 119.1L669.9 117.7L670.9 116.2L671.9 114.8L672.9 113.3L673.8 111.8L674.8 110.3L675.8 108.8L676.8 107.2L677.8 105.6L678.7 103.9L679.7 102.2L680.7 100.4L681.7 98.6L682.6 96.7L683.6 94.8L684.6 92.9L685.6 90.9L686.6 88.9L687.5 86.9L688.5 84.9L689.5 82.9L690.5 80.8L691.5 78.8L692.4 76.7L693.4 74.5L693.9 73.3L692.9 86.7L691.9 96.6L691 103.9L690 109.9L689 115L688 119.5L687 123.5L686.1 127L685.1 130.1L684.1 133L683.1 135.6L682.2 138L681.2 140.3L680.2 142.5L679.2 144.5L678.2 146.4L677.3 148.2L676.3 149.9L675.3 151.5L674.3 153L673.3 154.4L672.4 155.8L671.4 157.2L670.4 158.5L669.4 159.7L668.5 161L667.5 162.1L666.5 163.3L665.5 164.4L664.5 165.5L663.6 166.6L662.6 167.6L661.6 168.6L660.6 169.6L659.6 170.6L658.7 171.6L657.7 172.6L656.7 173.5L655.7 174.3L654.7 175.1L653.8 175.9L652.8 176.6L651.8 177.3L650.8 177.9L649.9 178.5L648.9 179.1L647.9 179.7L646.9 180.2L645.9 180.8L645 181.3L644 181.8L643 182.4L642 182.9L641 183.4L640.1 183.9L639.1 184.4L638.1 185L637.1 185.4L636.2 185.9L635.2 186.4L634.2 186.9L633.2 187.4L632.2 187.8L631.3 188.3L630.3 188.8L629.3 189.2L628.3 189.7L627.3 190.1L626.4 190.6L625.4 191L624.4 191.4L623.4 191.8L622.5 192.2L621.5 192.6L620.5 193L619.5 193.4L618.5 193.7L617.6 194.1L616.6 194.4L615.6 194.8L614.6 195.1L613.6 195.4L612.7 195.7L611.7 196L610.7 196.3L609.7 196.6L608.7 196.9L607.8 197.2L606.8 197.4L605.8 197.7L604.8 197.9L603.9 198.2L602.9 198.4L601.9 198.7L600.9 198.9L599.9 199.2L599 199.4L598 199.6L597 199.9L596 200.1L595 200.3L594.1 200.5L593.1 200.7L592.1 200.9L591.1 201.1L590.2 201.3L589.2 201.5L588.2 201.6L587.2 201.8L586.2 202L585.3 202.1L584.3 202.2L583.3 202.4L582.3 202.5L581.3 202.6L580.4 202.8L579.4 202.9L578.4 203L577.4 203.1L576.4 203.3L575.5 203.4L574.5 203.5L573.5 203.6L572.5 203.7L571.6 203.8L570.6 203.9L569.6 204L568.6 204.1L567.6 204.2L566.7 204.3L565.7 204.4L564.7 204.5L563.7 204.6L562.7 204.7L561.8 204.7L560.8 204.8L559.8 204.9L558.8 205L557.9 205.1L556.9 205.2L555.9 205.3L554.9 205.3L553.9 205.4L553 205.5L552 205.6L551 205.7L550 205.7L549 205.8L548.1 205.9L547.1 206L546.1 206.1L545.1 206.2L544.2 206.2L543.2 206.3L542.2 206.4L541.2 206.5L540.2 206.6L539.3 206.7L538.3 206.8L537.3 206.8L536.3 206.9L535.3 207L534.4 207.1L533.4 207.2L532.4 207.3L531.4 207.4L530.4 207.5L529.5 207.6L528.5 207.7L527.5 207.8L526.5 207.9L525.6 208.1L524.6 208.2L523.6 208.3L522.6 208.4L521.6 208.5L520.7 208.6L519.7 208.7L518.7 208.9L517.7 209L516.7 209.1L515.8 209.2L514.8 209.3L513.8 209.5L512.8 209.6L511.9 209.7L510.9 209.8L509.9 210L508.9 210.1L507.9 210.2L507 210.3L506 210.4L505 210.6L504 210.7L503 210.8L502.1 210.9L501.1 211.1L500.1 211.2L499.1 211.3L498.1 211.4L497.2 211.5L496.2 211.7L495.2 211.8L494.2 211.9L493.3 212L492.3 212.1L491.3 212.2L490.3 212.3L489.3 212.5L488.4 212.6L487.4 212.7L486.4 212.8L485.4 212.9L484.4 213L483.5 213.1L482.5 213.2L481.5 213.3L480.5 213.4L479.6 213.5L478.6 213.5L477.6 213.6L476.6 213.7L475.6 213.8L474.7 213.9L473.7 214L472.7 214L471.7 214.1L470.7 214.2L469.8 214.2L468.8 214.3L467.8 214.4L466.8 214.5L465.8 214.5L464.9 214.6L463.9 214.6L462.9 214.7L461.9 214.8L461 214.8L460 214.9L459 214.9L458 215L457 215.1L456.1 215.1L455.1 215.2L454.1 215.2L453.1 215.3L452.1 215.3L451.2 215.4L450.2 215.4L449.7 215.4" stroke="#ff00ff"/>
<path d="M449.7 200.7L450.7 199.5L451.7 198.7L452.6 198.2L453.6 197.8L454.6 197.5L455.6 197.2L456.6 196.9L457.5 196.7L458.5 196.5L459.5 196.4L460.5 196.2L461.4 196.1L462.4 196L463.4 195.8L464.4 195.7L465.4 195.6L466.3 195.4L467.3 195.3L468.3 195.2L469.3 195.1L470.3 195L471.2 194.9L472.2 194.7L473.2 194.6L474.2 194.5L475.1 194.4L476.1 194.3L477.1 194.3L478.1 194.2L479.1 194.1L480 194L481 193.9L482 193.8L483 193.7L484 193.6L484.9 193.6L485.9 193.5L486.9 193.4L487.9 193.3L488.9 193.2L489.8 193.1L490.8 193L491.8 192.9L492.8 192.8L493.7 192.8L494.7 192.7L495.7 192.6L496.7 192.5L497.7 192.4L498.6 192.3L499.6 192.2L500.6 192.1L501.6 192L502.6 191.9L503.5 191.9L504.5 191.8L505.5 191.7L506.5 191.6L507.4 191.5L508.4 191.4L509.4 191.3L510.4 191.2L511.4 191.1L512.3 191L513.3 190.9L514.3 190.8L515.3 190.7L516.3 190.6L517.2 190.5L518.2 190.4L519.2 190.3L520.2 190.2L521.1 190.1L522.1 190L523.1 189.9L524.1 189.8L525.1 189.6L526 189.5L527 189.4L528 189.3L529 189.2L530 189L530.9 188.9L531.9 188.8L532.9 188.7L533.9 188.5L534.9 188.4L535.8 188.2L536.8 188.1L537.8 187.9L538.8 187.8L539.7 187.6L540.7 187.4L541.7 187.3L542.7 187.1L543.7 186.9L544.6 186.8L545.6 186.6L546.6 186.4L547.6 186.2L548.6 186.1L549.5 185.9L550.5 185.7L551.5 185.5L552.5 185.4L553.4 185.2L554.4 185L555.4 184.8L556.4 184.7L557.4 184.5L558.3 184.3L559.3 184.2L560.3 184L561.3 183.8L562.3 183.7L563.2 183.5L564.2 183.4L565.2 183.2L566.2 183.1L567.2 182.9L568.1 182.8L569.1 182.6L570.1 182.4L571.1 182.3L572 182.1L573 182L574 181.8L575 181.6L576 181.4L576.9 181.3L577.9 181.1L578.9 180.9L579.9 180.8L580.9 180.6L581.8 180.4L582.8 180.2L583.8 180.1L584.8 179.9L585.7 179.7L586.7 179.5L587.7 179.3L588.7 179.1L589.7 178.9L590.6 178.6L591.6 178.4L592.6 178.1L593.6 177.9L594.6 177.6L595.5 177.2L596.5 176.8L597.5 176.4L598.5 176L599.4 175.5L600.4 174.9L601.4 174.3L602.4 173.7L603.4 173.1L604.3 172.4L605.3 171.7L606.3 170.9L607.3 170.1L608.3 169.2L609.2 168.3L610.2 167.3L611.2 166.1L612.2 164.9L613.2 163.5L614.1 161.9L615.1 160.3L616.1 158.6L617.1 156.8L618 155.1L619 153.3L620 151.6L621 150L622 148.4L622.9 146.8L623.9 145.3L624.9 143.8L625.9 142.4L626.9 141.1L627.8 139.9L628.8 138.7L629.8 137.7L630.8 136.7L631.7 135.9L632.7 135.1L633.7 134.4L634.7 133.9L635.7 133.4L636.6 133L637.6 132.6L638.6 132.4L639.6 132.2L640.6 132.2L641.5 132.2L642.5 132.3L643.5 132.4L644.5 132.6L645.5 132.8L646.4 133L647.4 133.3L648.4 133.4L649.4 133.5L650.3 133.5L651.3 133.4L652.3 133.1L653.3 132.8L654.3 132.4L655.2 131.9L656.2 131.2L657.2 130.5L658.2 129.7L659.2 128.7L660.1 127.7L661.1 126.6L662.1 125.4L663.1 124.2L664 123L665 121.8L666 120.5L667 119.2L668 117.8L668.9 116.4L669.9 114.9L670.9 113.5L671.9 112L672.9 110.5L673.8 108.9L674.8 107.4L675.8 105.8L676.8 104.1L677.8 102.5L678.7 100.7L679.7 99L680.7 97.1L681.7 95.2L682.6 93.3L683.6 91.4L684.6 89.4L685.6 87.4L686.6 85.4L687.5 83.4L688.5 81.3L689.5 79.3L690.5 77.2L691.5 75.1L692.4 73L693.4 70.8L693.9 69.7L692.9 83.7L691.9 94.1L691 101.7L690 108L689 113.4L688 118L687 122.2L686.1 125.8L685.1 129L684.1 132L683.1 134.7L682.2 137.2L681.2 139.5L680.2 141.7L679.2 143.8L678.2 145.7L677.3 147.5L676.3 149.2L675.3 150.8L674.3 152.4L673.3 153.8L672.4 155.3L671.4 156.6L670.4 157.9L669.4 159.2L668.5 160.4L667.5 161.6L666.5 162.8L665.5 163.9L664.5 165L663.6 166.1L662.6 167.2L661.6 168.2L660.6 169.3L659.6 170.3L658.7 171.3L657.7 172.2L656.7 173.2L655.7 174L654.7 174.9L653.8 175.7L652.8 176.4L651.8 177L650.8 177.7L649.9 178.3L648.9 178.9L647.9 179.4L646.9 180L645.9 180.5L645 181.1L644 181.6L643 182.2L642 182.7L641 183.3L640.1 183.8L639.1 184.4L638.1 184.9L637.1 185.4L636.2 185.9L635.2 186.4L634.2 186.9L633.2 187.4L632.2 187.9L631.3 188.4L630.3 188.9L629.3 189.4L628.3 189.8L627.3 190.3L626.4 190.8L625.4 191.2L624.4 191.7L623.4 192.1L622.5 192.5L621.5 192.9L620.5 193.3L619.5 193.7L618.5 194L617.6 194.4L616.6 194.7L615.6 195.1L614.6 195.4L613.6 195.7L612.7 196L611.7 196.3L610.7 196.6L609.7 196.9L608.7 197.2L607.8 197.5L606.8 197.7L605.8 198L604.8 198.3L603.9 198.5L602.9 198.8L601.9 199L600.9 199.3L599.9 199.5L599 199.7L598 200L597 200.2L596 200.4L595 200.6L594.1 200.9L593.1 201.1L592.1 201.3L591.1 201.5L590.2 201.6L589.2 201.8L588.2 202L587.2 202.2L586.2 202.3L585.3 202.5L584.3 202.6L583.3 202.7L582.3 202.9L581.3 203L580.4 203.1L579.4 203.3L578.4 203.4L577.4 203.5L576.4 203.6L575.5 203.7L574.5 203.9L573.5 204L572.5 204.1L571.6 204.2L570.6 204.3L569.6 204.4L568.6 204.5L567.6 204.6L566.7 204.7L565.7 204.8L564.7 204.9L563.7 205L562.7 205.1L561.8 205.1L560.8 205.2L559.8 205.3L558.8 205.4L557.9 205.5L556.9 205.6L555.9 205.7L554.9 205.7L553.9 205.8L553 205.9L552 206L551 206.1L550 206.2L549 206.2L548.1 206.3L547.1 206.4L546.1 206.5L545.1 206.6L544.2 206.7L543.2 206.7L542.2 206.8L541.2 206.9L540.2 207L539.3 207.1L538.3 207.2L537.3 207.3L536.3 207.4L535.3 207.5L534.4 207.6L533.4 207.7L532.4 207.8L531.4 207.9L530.4 208L529.5 208.1L528.5 208.2L527.5 208.3L526.5 208.4L525.6 208.5L524.6 208.6L523.6 208.8L522.6 208.9L521.6 209L520.7 209.1L519.7 209.2L518.7 209.4L517.7 209.5L516.7 209.6L515.8 209.7L514.8 209.9L513.8 210L512.8 210.1L511.9 210.3L510.9 210.4L509.9 210.5L508.9 210.6L507.9 210.8L507 210.9L506 211L505 211.2L504 211.3L503 211.4L502.1 211.5L501.1 211.7L500.1 211.8L499.1 211.9L498.1 212.1L497.2 212.2L496.2 212.3L495.2 212.4L494.2 212.5L493.3 212.7L492.3 212.8L491.3 212.9L490.3 213L489.3 213.1L488.4 213.3L487.4 213.4L486.4 213.5L485.4 213.6L484.4 213.7L483.5 213.8L482.5 213.9L481.5 214L480.5 214.1L479.6 214.2L478.6 214.3L477.6 214.4L476.6 214.4L475.6 214.5L474.7 214.6L473.7 214.7L472.7 214.8L471.7 214.8L470.7 214.9L469.8 215L468.8 215.1L467.8 215.1L466.8 215.2L465.8 215.3L464.9 215.3L463.9 215.4L462.9 215.5L461.9 215.5L461 215.6L460 215.7L459 215.7L458 215.8L457 215.8L456.1 215.9L455.1 215.9L454.1 216L453.1 216L452.1 216.1L451.2 216.1L450.2 216.2L449.7 216.2" stroke="#008000"/>
<path d="M449.7 200.6L450.7 199.4L451.7 198.5L452.6 198L453.6 197.6L454.6 197.2L455.6 197L456.6 196.7L457.5 196.5L458.5 196.3L459.5 196.1L460.5 196L461.4 195.8L462.4 195.7L463.4 195.6L464.4 195.5L465.4 195.3L466.3 195.2L467.3 195.1L468.3 195L469.3 194.8L470.3 194.7L471.2 194.6L472.2 194.5L473.2 194.4L474.2 194.3L475.1 194.2L476.1 194.1L477.1 194L478.1 193.9L479.1 193.8L480 193.7L481 193.6L482 193.5L483 193.4L484 193.4L484.9 193.3L485.9 193.2L486.9 193.1L487.9 193L488.9 192.9L489.8 192.8L490.8 192.7L491.8 192.6L492.8 192.5L493.7 192.4L494.7 192.3L495.7 192.2L496.7 192.1L497.7 192L498.6 192L499.6 191.9L500.6 191.8L501.6 191.7L502.6 191.6L503.5 191.5L504.5 191.4L505.5 191.3L506.5 191.2L507.4 191.1L508.4 191L509.4 190.9L510.4 190.8L511.4 190.7L512.3 190.6L513.3 190.5L514.3 190.4L515.3 190.3L516.3 190.2L517.2 190.1L518.2 190L519.2 189.8L520.2 189.7L521.1 189.6L522.1 189.5L523.1 189.4L524.1 189.3L525.1 189.1L526 189L527 188.9L528 188.8L529 188.6L530 188.5L530.9 188.4L531.9 188.2L532.9 188.1L533.9 187.9L534.9 187.8L535.8 187.6L536.8 187.4L537.8 187.3L538.8 187.1L539.7 186.9L540.7 186.8L541.7 186.6L542.7 186.4L543.7 186.2L544.6 186L545.6 185.8L546.6 185.6L547.6 185.5L548.6 185.3L549.5 185.1L550.5 184.9L551.5 184.7L552.5 184.5L553.4 184.3L554.4 184.1L555.4 183.9L556.4 183.8L557.4 183.6L558.3 183.4L559.3 183.2L560.3 183.1L561.3 182.9L562.3 182.7L563.2 182.6L564.2 182.4L565.2 182.2L566.2 182.1L567.2 181.9L568.1 181.8L569.1 181.6L570.1 181.4L571.1 181.3L572 181.1L573 181L574 180.8L575 180.6L576 180.4L576.9 180.3L577.9 180.1L578.9 179.9L579.9 179.7L580.9 179.6L581.8 179.4L582.8 179.2L583.8 179L584.8 178.8L585.7 178.6L586.7 178.5L587.7 178.2L588.7 178L589.7 177.8L590.6 177.6L591.6 177.3L592.6 177.1L593.6 176.8L594.6 176.4L595.5 176.1L596.5 175.7L597.5 175.3L598.5 174.8L599.4 174.3L600.4 173.7L601.4 173.1L602.4 172.5L603.4 171.8L604.3 171.1L605.3 170.4L606.3 169.6L607.3 168.8L608.3 167.9L609.2 166.9L610.2 165.8L611.2 164.7L612.2 163.4L613.2 161.9L614.1 160.3L615.1 158.7L616.1 156.9L617.1 155.1L618 153.2L619 151.4L620 149.6L621 147.9L622 146.2L622.9 144.5L623.9 142.9L624.9 141.3L625.9 139.8L626.9 138.4L627.8 137.1L628.8 135.8L629.8 134.6L630.8 133.6L631.7 132.6L632.7 131.8L633.7 131L634.7 130.4L635.7 129.8L636.6 129.3L637.6 128.9L638.6 128.7L639.6 128.5L640.6 128.4L641.5 128.4L642.5 128.5L643.5 128.6L644.5 128.8L645.5 129.1L646.4 129.3L647.4 129.6L648.4 129.8L649.4 129.9L650.3 129.9L651.3 129.8L652.3 129.6L653.3 129.3L654.3 128.9L655.2 128.4L656.2 127.7L657.2 127L658.2 126.1L659.2 125.2L660.1 124.1L661.1 123L662.1 121.8L663.1 120.5L664 119.2L665 118L666 116.6L667 115.3L668 113.8L668.9 112.4L669.9 110.9L670.9 109.3L671.9 107.8L672.9 106.2L673.8 104.6L674.8 102.9L675.8 101.2L676.8 99.5L677.8 97.8L678.7 96L679.7 94.1L680.7 92.2L681.7 90.2L682.6 88.3L683.6 86.2L684.6 84.2L685.6 82.2L686.6 80.1L687.5 78L688.5 75.9L689.5 73.9L690.5 71.8L691.5 69.7L692.4 67.6L693.4 65.4L693.9 64.2L692.9 79.2L691.9 90.3L691 98.5L690 105.2L689 110.9L688 115.8L687 120.3L686.1 124.1L685.1 127.4L684.1 130.5L683.1 133.3L682.2 135.9L681.2 138.3L680.2 140.6L679.2 142.7L678.2 144.7L677.3 146.5L676.3 148.3L675.3 149.9L674.3 151.5L673.3 153L672.4 154.4L671.4 155.8L670.4 157.1L669.4 158.4L668.5 159.6L667.5 160.9L666.5 162.1L665.5 163.2L664.5 164.3L663.6 165.4L662.6 166.5L661.6 167.6L660.6 168.7L659.6 169.7L658.7 170.8L657.7 171.8L656.7 172.7L655.7 173.6L654.7 174.5L653.8 175.3L652.8 176L651.8 176.7L650.8 177.3L649.9 177.9L648.9 178.5L647.9 179L646.9 179.6L645.9 180.2L645 180.7L644 181.3L643 181.9L642 182.5L641 183.1L640.1 183.6L639.1 184.2L638.1 184.8L637.1 185.3L636.2 185.9L635.2 186.4L634.2 187L633.2 187.5L632.2 188L631.3 188.6L630.3 189.1L629.3 189.6L628.3 190.1L627.3 190.6L626.4 191.1L625.4 191.5L624.4 192L623.4 192.5L622.5 192.9L621.5 193.3L620.5 193.7L619.5 194.1L618.5 194.5L617.6 194.8L616.6 195.2L615.6 195.5L614.6 195.9L613.6 196.2L612.7 196.5L611.7 196.8L610.7 197.1L609.7 197.4L608.7 197.7L607.8 197.9L606.8 198.2L605.8 198.5L604.8 198.7L603.9 199L602.9 199.3L601.9 199.5L600.9 199.8L599.9 200L599 200.2L598 200.5L597 200.7L596 200.9L595 201.2L594.1 201.4L593.1 201.6L592.1 201.8L591.1 202L590.2 202.2L589.2 202.3L588.2 202.5L587.2 202.7L586.2 202.9L585.3 203L584.3 203.2L583.3 203.3L582.3 203.4L581.3 203.6L580.4 203.7L579.4 203.8L578.4 204L577.4 204.1L576.4 204.2L575.5 204.3L574.5 204.4L573.5 204.5L572.5 204.7L571.6 204.8L570.6 204.9L569.6 205L568.6 205.1L567.6 205.2L566.7 205.3L565.7 205.4L564.7 205.5L563.7 205.6L562.7 205.6L561.8 205.7L560.8 205.8L559.8 205.9L558.8 206L557.9 206.1L556.9 206.2L555.9 206.3L554.9 206.3L553.9 206.4L553 206.5L552 206.6L551 206.7L550 206.8L549 206.9L548.1 206.9L547.1 207L546.1 207.1L545.1 207.2L544.2 207.3L543.2 207.4L542.2 207.5L541.2 207.6L540.2 207.7L539.3 207.7L538.3 207.8L537.3 207.9L536.3 208L535.3 208.1L534.4 208.2L533.4 208.3L532.4 208.4L531.4 208.6L530.4 208.7L529.5 208.8L528.5 208.9L527.5 209L526.5 209.1L525.6 209.2L524.6 209.4L523.6 209.5L522.6 209.6L521.6 209.7L520.7 209.9L519.7 210L518.7 210.1L517.7 210.3L516.7 210.4L515.8 210.5L514.8 210.7L513.8 210.8L512.8 210.9L511.9 211.1L510.9 211.2L509.9 211.3L508.9 211.5L507.9 211.6L507 211.8L506 211.9L505 212L504 212.2L503 212.3L502.1 212.5L501.1 212.6L500.1 212.7L499.1 212.9L498.1 213L497.2 213.1L496.2 213.3L495.2 213.4L494.2 213.5L493.3 213.7L492.3 213.8L491.3 213.9L490.3 214L489.3 214.2L488.4 214.3L487.4 214.4L486.4 214.5L485.4 214.6L484.4 214.7L483.5 214.9L482.5 215L481.5 215.1L480.5 215.2L479.6 215.3L478.6 215.4L477.6 215.5L476.6 215.5L475.6 215.6L474.7 215.7L473.7 215.8L472.7 215.9L471.7 216L470.7 216L469.8 216.1L468.8 216.2L467.8 216.3L466.8 216.3L465.8 216.4L464.9 216.5L463.9 216.5L462.9 216.6L461.9 216.7L461 216.7L460 216.8L459 216.9L458 216.9L457 217L456.1 217L455.1 217.1L454.1 217.1L453.1 217.2L452.1 217.2L451.2 217.3L450.2 217.3L449.7 217.4" stroke="#000080"/>
<path d="M449.7 200.3L450.7 199.1L451.7 198.2L452.6 197.7L453.6 197.2L454.6 196.9L455.6 196.6L456.6 196.3L457.5 196.1L458.5 195.9L459.5 195.7L460.5 195.6L461.4 195.4L462.4 195.3L463.4 195.2L464.4 195L465.4 194.9L466.3 194.8L467.3 194.6L468.3 194.5L469.3 194.4L470.3 194.3L471.2 194.2L472.2 194L473.2 193.9L474.2 193.8L475.1 193.7L476.1 193.6L477.1 193.5L478.1 193.4L479.1 193.3L480 193.2L481 193.1L482 193L483 192.9L484 192.8L484.9 192.7L485.9 192.6L486.9 192.5L487.9 192.4L488.9 192.3L489.8 192.2L490.8 192.1L491.8 192L492.8 191.9L493.7 191.8L494.7 191.7L495.7 191.6L496.7 191.5L497.7 191.4L498.6 191.3L499.6 191.2L500.6 191.1L501.6 191L502.6 190.9L503.5 190.8L504.5 190.7L505.5 190.6L506.5 190.5L507.4 190.4L508.4 190.3L509.4 190.2L510.4 190.1L511.4 190L512.3 189.8L513.3 189.7L514.3 189.6L515.3 189.5L516.3 189.4L517.2 189.3L518.2 189.1L519.2 189L520.2 188.9L521.1 188.8L522.1 188.6L523.1 188.5L524.1 188.4L525.1 188.3L526 188.1L527 188L528 187.8L529 187.7L530 187.5L530.9 187.4L531.9 187.2L532.9 187.1L533.9 186.9L534.9 186.7L535.8 186.5L536.8 186.3L537.8 186.2L538.8 186L539.7 185.8L540.7 185.6L541.7 185.3L542.7 185.1L543.7 184.9L544.6 184.7L545.6 184.5L546.6 184.3L547.6 184.1L548.6 183.8L549.5 183.6L550.5 183.4L551.5 183.2L552.5 183L553.4 182.8L554.4 182.6L555.4 182.4L556.4 182.2L557.4 182L558.3 181.8L559.3 181.6L560.3 181.4L561.3 181.2L562.3 181L563.2 180.9L564.2 180.7L565.2 180.5L566.2 180.4L567.2 180.2L568.1 180L569.1 179.9L570.1 179.7L571.1 179.5L572 179.4L573 179.2L574 179L575 178.8L576 178.7L576.9 178.5L577.9 178.3L578.9 178.1L579.9 177.9L580.9 177.7L581.8 177.5L582.8 177.4L583.8 177.2L584.8 177L585.7 176.8L586.7 176.6L587.7 176.4L588.7 176.1L589.7 175.9L590.6 175.7L591.6 175.4L592.6 175.1L593.6 174.8L594.6 174.5L595.5 174.1L596.5 173.7L597.5 173.2L598.5 172.7L599.4 172.1L600.4 171.5L601.4 170.9L602.4 170.2L603.4 169.5L604.3 168.8L605.3 168L606.3 167.2L607.3 166.3L608.3 165.4L609.2 164.4L610.2 163.3L611.2 162L612.2 160.7L613.2 159.2L614.1 157.5L615.1 155.7L616.1 153.8L617.1 151.9L618 149.9L619 147.9L620 146L621 144.1L622 142.2L622.9 140.4L623.9 138.6L624.9 136.8L625.9 135.1L626.9 133.5L627.8 132L628.8 130.6L629.8 129.2L630.8 128L631.7 126.9L632.7 125.8L633.7 125L634.7 124.2L635.7 123.5L636.6 122.9L637.6 122.4L638.6 122.1L639.6 121.8L640.6 121.7L641.5 121.7L642.5 121.8L643.5 121.9L644.5 122.1L645.5 122.4L646.4 122.7L647.4 123.1L648.4 123.3L649.4 123.5L650.3 123.6L651.3 123.5L652.3 123.3L653.3 123L654.3 122.6L655.2 122.1L656.2 121.5L657.2 120.8L658.2 119.9L659.2 118.8L660.1 117.7L661.1 116.5L662.1 115.2L663.1 113.9L664 112.5L665 111.2L666 109.8L667 108.3L668 106.8L668.9 105.2L669.9 103.6L670.9 102L671.9 100.3L672.9 98.5L673.8 96.8L674.8 95L675.8 93.2L676.8 91.3L677.8 89.4L678.7 87.4L679.7 85.4L680.7 83.4L681.7 81.3L682.6 79.2L683.6 77.1L684.6 75L685.6 72.8L686.6 70.7L687.5 68.5L688.5 66.4L689.5 64.3L690.5 62.1L691.5 60L692.4 57.9L693.4 55.7L693.9 54.5L692.9 71.3L691.9 83.6L691 92.7L690 100.2L689 106.6L688 111.9L687 116.8L686.1 120.9L685.1 124.6L684.1 127.8L683.1 130.8L682.2 133.6L681.2 136.1L680.2 138.5L679.2 140.8L678.2 142.8L677.3 144.7L676.3 146.5L675.3 148.2L674.3 149.8L673.3 151.4L672.4 152.8L671.4 154.3L670.4 155.6L669.4 157L668.5 158.3L667.5 159.5L666.5 160.7L665.5 161.9L664.5 163.1L663.6 164.3L662.6 165.4L661.6 166.5L660.6 167.7L659.6 168.8L658.7 169.8L657.7 170.9L656.7 171.9L655.7 172.9L654.7 173.7L653.8 174.6L652.8 175.3L651.8 176L650.8 176.6L649.9 177.2L648.9 177.8L647.9 178.4L646.9 179L645.9 179.5L645 180.1L644 180.7L643 181.4L642 182L641 182.7L640.1 183.3L639.1 184L638.1 184.6L637.1 185.2L636.2 185.9L635.2 186.5L634.2 187.1L633.2 187.7L632.2 188.2L631.3 188.8L630.3 189.4L629.3 190L628.3 190.5L627.3 191.1L626.4 191.6L625.4 192.1L624.4 192.6L623.4 193.1L622.5 193.6L621.5 194L620.5 194.5L619.5 194.9L618.5 195.2L617.6 195.6L616.6 196L615.6 196.3L614.6 196.7L613.6 197L612.7 197.3L611.7 197.6L610.7 197.9L609.7 198.2L608.7 198.5L607.8 198.8L606.8 199.1L605.8 199.3L604.8 199.6L603.9 199.9L602.9 200.1L601.9 200.4L600.9 200.6L599.9 200.9L599 201.1L598 201.4L597 201.6L596 201.8L595 202.1L594.1 202.3L593.1 202.5L592.1 202.7L591.1 202.9L590.2 203.1L589.2 203.3L588.2 203.5L587.2 203.6L586.2 203.8L585.3 204L584.3 204.1L583.3 204.3L582.3 204.4L581.3 204.6L580.4 204.7L579.4 204.8L578.4 204.9L577.4 205.1L576.4 205.2L575.5 205.3L574.5 205.4L573.5 205.6L572.5 205.7L571.6 205.8L570.6 205.9L569.6 206L568.6 206.1L567.6 206.2L566.7 206.3L565.7 206.4L564.7 206.5L563.7 206.6L562.7 206.7L561.8 206.8L560.8 206.9L559.8 207L558.8 207.1L557.9 207.2L556.9 207.3L555.9 207.3L554.9 207.4L553.9 207.5L553 207.6L552 207.7L551 207.8L550 207.9L549 208L548.1 208.1L547.1 208.1L546.1 208.2L545.1 208.3L544.2 208.4L543.2 208.5L542.2 208.6L541.2 208.7L540.2 208.8L539.3 208.9L538.3 209L537.3 209.1L536.3 209.2L535.3 209.3L534.4 209.4L533.4 209.5L532.4 209.6L531.4 209.8L530.4 209.9L529.5 210L528.5 210.1L527.5 210.2L526.5 210.4L525.6 210.5L524.6 210.6L523.6 210.8L522.6 210.9L521.6 211L520.7 211.2L519.7 211.3L518.7 211.5L517.7 211.6L516.7 211.8L515.8 211.9L514.8 212.1L513.8 212.2L512.8 212.4L511.9 212.5L510.9 212.7L509.9 212.8L508.9 213L507.9 213.1L507 213.3L506 213.4L505 213.6L504 213.8L503 213.9L502.1 214.1L501.1 214.2L500.1 214.4L499.1 214.5L498.1 214.7L497.2 214.8L496.2 215L495.2 215.1L494.2 215.3L493.3 215.4L492.3 215.6L491.3 215.7L490.3 215.8L489.3 216L488.4 216.1L487.4 216.2L486.4 216.4L485.4 216.5L484.4 216.6L483.5 216.7L482.5 216.9L481.5 217L480.5 217.1L479.6 217.2L478.6 217.3L477.6 217.4L476.6 217.5L475.6 217.6L474.7 217.7L473.7 217.8L472.7 217.9L471.7 217.9L470.7 218L469.8 218.1L468.8 218.2L467.8 218.3L466.8 218.3L465.8 218.4L464.9 218.5L463.9 218.6L462.9 218.6L461.9 218.7L461 218.8L460 218.8L459 218.9L458 219L457 219L456.1 219.1L455.1 219.1L454.1 219.2L453.1 219.2L452.1 219.3L451.2 219.3L450.2 219.4L449.7 219.4" stroke="#8000ff"/>
<path d="M449.7 200.1L450.7 198.9L451.7 198L452.6 197.4L453.6 196.9L454.6 196.6L455.6 196.2L456.6 196L457.5 195.7L458.5 195.6L459.5 195.4L460.5 195.2L461.4 195.1L462.4 195L463.4 194.8L464.4 194.7L465.4 194.6L466.3 194.4L467.3 194.3L468.3 194.2L469.3 194.1L470.3 193.9L471.2 193.8L472.2 193.7L473.2 193.6L474.2 193.5L475.1 193.3L476.1 193.2L477.1 193.1L478.1 193L479.1 192.9L480 192.8L481 192.7L482 192.6L483 192.5L484 192.4L484.9 192.3L485.9 192.2L486.9 192.1L487.9 192L488.9 191.9L489.8 191.8L490.8 191.7L491.8 191.6L492.8 191.5L493.7 191.4L494.7 191.3L495.7 191.2L496.7 191.1L497.7 190.9L498.6 190.8L499.6 190.7L500.6 190.6L501.6 190.5L502.6 190.4L503.5 190.3L504.5 190.2L505.5 190.1L506.5 190L507.4 189.8L508.4 189.7L509.4 189.6L510.4 189.5L511.4 189.4L512.3 189.3L513.3 189.1L514.3 189L515.3 188.9L516.3 188.8L517.2 188.6L518.2 188.5L519.2 188.4L520.2 188.3L521.1 188.1L522.1 188L523.1 187.8L524.1 187.7L525.1 187.6L526 187.4L527 187.3L528 187.1L529 187L530 186.8L530.9 186.6L531.9 186.5L532.9 186.3L533.9 186.1L534.9 185.9L535.8 185.7L536.8 185.5L537.8 185.3L538.8 185.1L539.7 184.8L540.7 184.6L541.7 184.4L542.7 184.2L543.7 183.9L544.6 183.7L545.6 183.5L546.6 183.2L547.6 183L548.6 182.7L549.5 182.5L550.5 182.3L551.5 182L552.5 181.8L553.4 181.6L554.4 181.3L555.4 181.1L556.4 180.9L557.4 180.7L558.3 180.5L559.3 180.3L560.3 180.1L561.3 179.9L562.3 179.7L563.2 179.5L564.2 179.4L565.2 179.2L566.2 179L567.2 178.8L568.1 178.7L569.1 178.5L570.1 178.3L571.1 178.2L572 178L573 177.8L574 177.6L575 177.4L576 177.3L576.9 177.1L577.9 176.9L578.9 176.7L579.9 176.5L580.9 176.3L581.8 176.1L582.8 175.9L583.8 175.7L584.8 175.5L585.7 175.3L586.7 175.1L587.7 174.9L588.7 174.7L589.7 174.4L590.6 174.2L591.6 173.9L592.6 173.6L593.6 173.3L594.6 172.9L595.5 172.6L596.5 172.1L597.5 171.6L598.5 171.1L599.4 170.5L600.4 169.8L601.4 169.2L602.4 168.5L603.4 167.7L604.3 167L605.3 166.2L606.3 165.3L607.3 164.4L608.3 163.5L609.2 162.4L610.2 161.3L611.2 160L612.2 158.6L613.2 157L614.1 155.3L615.1 153.4L616.1 151.4L617.1 149.4L618 147.3L619 145.3L620 143.2L621 141.2L622 139.2L622.9 137.2L623.9 135.2L624.9 133.3L625.9 131.5L626.9 129.7L627.8 128.1L628.8 126.5L629.8 125L630.8 123.6L631.7 122.4L632.7 121.2L633.7 120.2L634.7 119.4L635.7 118.6L636.6 117.9L637.6 117.3L638.6 116.9L639.6 116.7L640.6 116.5L641.5 116.5L642.5 116.6L643.5 116.7L644.5 117L645.5 117.3L646.4 117.6L647.4 118L648.4 118.3L649.4 118.5L650.3 118.6L651.3 118.6L652.3 118.4L653.3 118.1L654.3 117.8L655.2 117.3L656.2 116.7L657.2 115.9L658.2 115L659.2 113.9L660.1 112.8L661.1 111.5L662.1 110.1L663.1 108.8L664 107.3L665 105.9L666 104.4L667 102.9L668 101.3L668.9 99.7L669.9 98L670.9 96.2L671.9 94.4L672.9 92.6L673.8 90.8L674.8 88.9L675.8 86.9L676.8 84.9L677.8 82.9L678.7 80.8L679.7 78.7L680.7 76.6L681.7 74.4L682.6 72.2L683.6 70L684.6 67.8L685.6 65.6L686.6 63.4L687.5 61.2L688.5 59L689.5 56.8L690.5 54.6L691.5 52.5L692.4 50.4L693.4 48.2L693.9 47L692.9 65.1L691.9 78.4L691 88.2L690 96.3L689 103.2L688 108.9L687 114.1L686.1 118.5L685.1 122.3L684.1 125.8L683.1 128.9L682.2 131.8L681.2 134.5L680.2 137L679.2 139.3L678.2 141.4L677.3 143.4L676.3 145.2L675.3 146.9L674.3 148.6L673.3 150.1L672.4 151.6L671.4 153.1L670.4 154.5L669.4 155.8L668.5 157.2L667.5 158.5L666.5 159.7L665.5 161L664.5 162.2L663.6 163.4L662.6 164.5L661.6 165.7L660.6 166.9L659.6 168L658.7 169.1L657.7 170.2L656.7 171.3L655.7 172.3L654.7 173.2L653.8 174L652.8 174.8L651.8 175.5L650.8 176.1L649.9 176.7L648.9 177.3L647.9 177.9L646.9 178.5L645.9 179L645 179.7L644 180.3L643 181L642 181.7L641 182.3L640.1 183.1L639.1 183.8L638.1 184.5L637.1 185.1L636.2 185.8L635.2 186.5L634.2 187.1L633.2 187.8L632.2 188.4L631.3 189L630.3 189.7L629.3 190.3L628.3 190.9L627.3 191.5L626.4 192L625.4 192.6L624.4 193.1L623.4 193.6L622.5 194.1L621.5 194.6L620.5 195L619.5 195.5L618.5 195.9L617.6 196.2L616.6 196.6L615.6 197L614.6 197.3L613.6 197.6L612.7 198L611.7 198.3L610.7 198.6L609.7 198.9L608.7 199.2L607.8 199.4L606.8 199.7L605.8 200L604.8 200.3L603.9 200.5L602.9 200.8L601.9 201.1L600.9 201.3L599.9 201.6L599 201.8L598 202.1L597 202.3L596 202.5L595 202.8L594.1 203L593.1 203.2L592.1 203.4L591.1 203.6L590.2 203.8L589.2 204L588.2 204.2L587.2 204.4L586.2 204.6L585.3 204.7L584.3 204.9L583.3 205L582.3 205.2L581.3 205.3L580.4 205.5L579.4 205.6L578.4 205.7L577.4 205.9L576.4 206L575.5 206.1L574.5 206.2L573.5 206.3L572.5 206.5L571.6 206.6L570.6 206.7L569.6 206.8L568.6 206.9L567.6 207L566.7 207.1L565.7 207.2L564.7 207.3L563.7 207.4L562.7 207.5L561.8 207.6L560.8 207.7L559.8 207.8L558.8 207.9L557.9 208L556.9 208.1L555.9 208.2L554.9 208.3L553.9 208.4L553 208.5L552 208.5L551 208.6L550 208.7L549 208.8L548.1 208.9L547.1 209L546.1 209.1L545.1 209.2L544.2 209.3L543.2 209.4L542.2 209.5L541.2 209.6L540.2 209.7L539.3 209.8L538.3 209.9L537.3 210L536.3 210.1L535.3 210.2L534.4 210.3L533.4 210.5L532.4 210.6L531.4 210.7L530.4 210.8L529.5 210.9L528.5 211.1L527.5 211.2L526.5 211.3L525.6 211.5L524.6 211.6L523.6 211.8L522.6 211.9L521.6 212.1L520.7 212.2L519.7 212.4L518.7 212.5L517.7 212.7L516.7 212.8L515.8 213L514.8 213.1L513.8 213.3L512.8 213.5L511.9 213.6L510.9 213.8L509.9 214L508.9 214.1L507.9 214.3L507 214.5L506 214.6L505 214.8L504 215L503 215.1L502.1 215.3L501.1 215.5L500.1 215.6L499.1 215.8L498.1 216L497.2 216.1L496.2 216.3L495.2 216.5L494.2 216.6L493.3 216.8L492.3 216.9L491.3 217.1L490.3 217.2L489.3 217.4L488.4 217.5L487.4 217.7L486.4 217.8L485.4 217.9L484.4 218.1L483.5 218.2L482.5 218.3L481.5 218.5L480.5 218.6L479.6 218.7L478.6 218.8L477.6 218.9L476.6 219L475.6 219.1L474.7 219.2L473.7 219.3L472.7 219.4L471.7 219.5L470.7 219.6L469.8 219.7L468.8 219.7L467.8 219.8L466.8 219.9L465.8 220L464.9 220.1L463.9 220.1L462.9 220.2L461.9 220.3L461 220.3L460 220.4L459 220.5L458 220.5L457 220.6L456.1 220.7L455.1 220.7L454.1 220.8L453.1 220.8L452.1 220.9L451.2 220.9L450.2 221L449.7 221" stroke="#800080"/>
</g>
<rect x="426" y="26.9" width="293" height="217.4" fill="none" stroke="#000" stroke-width="1.8"/>
<path d="M426.5 230H431M426.5 201H431M426.5 172H431M426.5 143H431M426.5 114H431M426.5 85H431M426.5 56H431M426.5 27H431M426.5 215.5H429M426.5 186.5H429M426.5 157.5H429M426.5 128.5H429M426.5 99.5H429M426.5 70.5H429M426.5 41.5H429M449.7 243.8V239.3M498.5 243.8V239.3M547.4 243.8V239.3M596.2 243.8V239.3M645.1 243.8V239.3M693.9 243.8V239.3M474.1 243.8V241.3M523 243.8V241.3M571.8 243.8V241.3M620.6 243.8V241.3M669.5 243.8V241.3" stroke="#000" stroke-width="1.5" fill="none"/>
<text x="420.6" y="233.8" font-size="13" text-anchor="end" fill="#222">-10</text>
<text x="420.6" y="204.8" font-size="13" text-anchor="end" fill="#222">0</text>
<text x="420.6" y="175.8" font-size="13" text-anchor="end" fill="#222">10</text>
<text x="420.6" y="146.8" font-size="13" text-anchor="end" fill="#222">20</text>
<text x="420.6" y="117.8" font-size="13" text-anchor="end" fill="#222">30</text>
<text x="420.6" y="88.8" font-size="13" text-anchor="end" fill="#222">40</text>
<text x="420.6" y="59.8" font-size="13" text-anchor="end" fill="#222">50</text>
<text x="420.6" y="30.8" font-size="13" text-anchor="end" fill="#222">60</text>
<text x="449.7" y="260.2" font-size="13" text-anchor="middle" fill="#222">0.6</text>
<text x="498.5" y="260.2" font-size="13" text-anchor="middle" fill="#222">0.8</text>
<text x="547.4" y="260.2" font-size="13" text-anchor="middle" fill="#222">1.0</text>
<text x="596.2" y="260.2" font-size="13" text-anchor="middle" fill="#222">1.2</text>
<text x="645.1" y="260.2" font-size="13" text-anchor="middle" fill="#222">1.4</text>
<text x="693.9" y="260.2" font-size="13" text-anchor="middle" fill="#222">1.6</text>
<text x="572.1" y="282.9" font-size="18.5" text-anchor="middle" fill="#000">Potential / V <tspan font-style="italic">vs.</tspan> SCE</text>
<text transform="translate(394.9 142) rotate(-90)" font-size="18.4" text-anchor="middle" fill="#000">Current / μA</text>
<text x="385.3" y="26.4" font-size="27.6" fill="#000">b</text>
<text x="554.6" y="306.2" font-size="17" text-anchor="middle" style="font-family:'Liberation Serif',serif" fill="#000">(<tspan font-weight="bold">b</tspan>)</text>
<text x="618.6" y="50.9" font-size="12.5" fill="#222">400 mV/s</text>
<text x="620.1" y="106.7" font-size="12.5" fill="#222">50 mV/s</text>
<path d="M640 89V60.5" stroke="#888" stroke-width="0.8"/><path d="M640 56.4L638.4 61.6H641.6Z" fill="#222"/>
<rect x="464.3" y="39.6" width="123.1" height="94.8" fill="#fff" stroke="#444" stroke-width="1"/>
<path d="M469.7 121.6L570.6 45.8" stroke="#f03030" stroke-width="1"/>
<rect x="468.6" y="121.3" width="2.6" height="2.6" fill="#222"/>
<rect x="491.5" y="100.9" width="2.6" height="2.6" fill="#222"/>
<rect x="508.9" y="93.3" width="2.6" height="2.6" fill="#222"/>
<rect x="523.6" y="74.1" width="2.6" height="2.6" fill="#222"/>
<rect x="536.9" y="69.9" width="2.6" height="2.6" fill="#222"/>
<rect x="548.6" y="63.6" width="2.6" height="2.6" fill="#222"/>
<rect x="559.6" y="52.4" width="2.6" height="2.6" fill="#222"/>
<rect x="569.2" y="43.7" width="2.6" height="2.6" fill="#222"/>
<path d="M464.7 129.3H467.2M464.7 109.3H467.2M464.7 89.3H467.2M464.7 69.3H467.2M464.7 49.3H467.2M464.7 119.3H466.2M464.7 99.3H466.2M464.7 79.3H466.2M464.7 59.3H466.2M464.2 134V131.5M488.8 134V131.5M513.4 134V131.5M538 134V131.5M562.6 134V131.5M587.2 134V131.5M476.5 134V132.5M501.1 134V132.5M525.7 134V132.5M550.3 134V132.5M574.9 134V132.5" stroke="#444" stroke-width="0.7" fill="none"/>
<text x="462.4" y="132.2" font-size="8.2" text-anchor="end" fill="#333">12</text>
<text x="462.4" y="112.2" font-size="8.2" text-anchor="end" fill="#333">16</text>
<text x="462.4" y="92.2" font-size="8.2" text-anchor="end" fill="#333">20</text>
<text x="462.4" y="72.2" font-size="8.2" text-anchor="end" fill="#333">24</text>
<text x="462.4" y="52.2" font-size="8.2" text-anchor="end" fill="#333">28</text>
<text x="464.2" y="143.6" font-size="8.2" text-anchor="middle" fill="#333">0.2</text>
<text x="488.8" y="143.6" font-size="8.2" text-anchor="middle" fill="#333">0.3</text>
<text x="513.4" y="143.6" font-size="8.2" text-anchor="middle" fill="#333">0.4</text>
<text x="538" y="143.6" font-size="8.2" text-anchor="middle" fill="#333">0.5</text>
<text x="562.6" y="143.6" font-size="8.2" text-anchor="middle" fill="#333">0.6</text>
<text x="587.2" y="143.6" font-size="8.2" text-anchor="middle" fill="#333">0.7</text>
<text x="528.5" y="153.2" font-size="9.2" text-anchor="middle" fill="#222" textLength="51.5" lengthAdjust="spacingAndGlyphs"><tspan font-style="italic">v</tspan><tspan font-size="5" dy="-3">1/2</tspan><tspan dy="3"> / (V s</tspan><tspan font-size="5" dy="-3">-1</tspan><tspan dy="3">)</tspan><tspan font-size="5" dy="-3">1/2</tspan></text>
<text transform="translate(445.3 93.6) rotate(-90)" font-size="10.4" text-anchor="middle" fill="#222"><tspan font-style="italic">I</tspan><tspan dy="2.8">pa</tspan><tspan dy="-2.8"> / μA</tspan></text>
<text x="474" y="49.8" font-size="7" fill="#222" textLength="69.5" lengthAdjust="spacingAndGlyphs"><tspan font-style="italic">I</tspan><tspan dy="3.1">pa</tspan><tspan dy="-3.1"> = 36.977 </tspan><tspan font-style="italic">v</tspan><tspan font-size="4.5" dy="-2.5">1/2</tspan><tspan dy="2.5"> + 5.309</tspan></text>
<text x="474" y="66.2" font-size="7" fill="#222" textLength="28.2" lengthAdjust="spacingAndGlyphs"><tspan font-style="italic">R</tspan> = 0.995</text>
</svg></body></html>
